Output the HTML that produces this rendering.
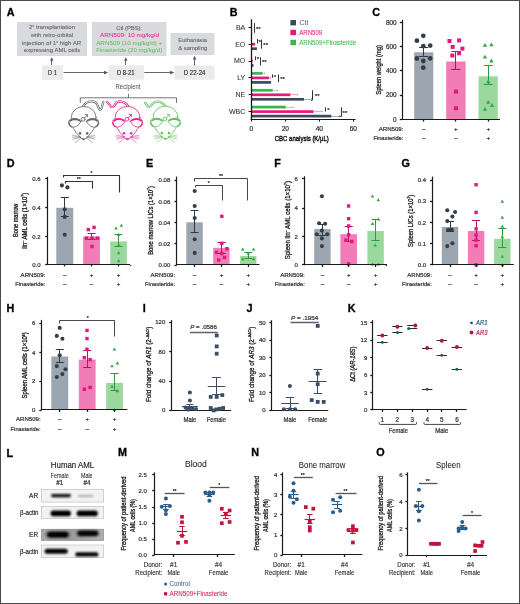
<!DOCTYPE html><html><head><meta charset="utf-8"><style>html,body{margin:0;padding:0;background:#fff;}svg{display:block;will-change:transform;font-family:"Liberation Sans",sans-serif;}</style></head><body>
<svg width="520" height="604" viewBox="0 0 520 604">
<rect x="0.00" y="0.00" width="520.00" height="604.00" fill="#fff" stroke="none" stroke-width="0"/>
<text x="6.84" y="15.73" font-size="10.8" font-weight="bold" fill="#000" stroke="#000" stroke-width="0.3">A</text>
<rect x="17.00" y="22.00" width="70.00" height="34.00" fill="#d8dadd" stroke="none" stroke-width="0"/>
<rect x="92.00" y="22.00" width="74.50" height="34.00" fill="#d8dadd" stroke="none" stroke-width="0"/>
<rect x="170.50" y="33.00" width="44.00" height="22.00" fill="#d8dadd" stroke="none" stroke-width="0"/>
<text x="52.00" y="29.34" font-size="6.1" fill="#5e5e5e" text-anchor="middle" stroke="#5e5e5e" stroke-width="0.08" textLength="46" lengthAdjust="spacingAndGlyphs">2<tspan font-size="3.5" dy="-2">o</tspan><tspan dy="2"> transplantation</tspan></text>
<text x="52.00" y="37.03" font-size="6.1" fill="#5e5e5e" text-anchor="middle" stroke="#5e5e5e" stroke-width="0.08" textLength="42.4" lengthAdjust="spacingAndGlyphs">with retro-orbital</text>
<text x="51.60" y="44.63" font-size="6.1" fill="#5e5e5e" text-anchor="middle" stroke="#5e5e5e" stroke-width="0.08" textLength="59.3" lengthAdjust="spacingAndGlyphs">injection of 1<tspan font-size="3.5" dy="-2">o</tspan><tspan dy="2"> high AR</tspan></text>
<text x="52.10" y="52.03" font-size="6.1" fill="#5e5e5e" text-anchor="middle" stroke="#5e5e5e" stroke-width="0.08" textLength="56.2" lengthAdjust="spacingAndGlyphs">expressing AML cells</text>
<text x="129.20" y="29.73" font-size="6.1" fill="#5e5e5e" text-anchor="middle" stroke="#5e5e5e" stroke-width="0.08" textLength="26" lengthAdjust="spacingAndGlyphs">Ctl (PBS):</text>
<text x="129.60" y="37.03" font-size="6.1" fill="#e1268c" text-anchor="middle" stroke="#e1268c" stroke-width="0.03" textLength="59" lengthAdjust="spacingAndGlyphs">ARN509: 10 mg/kg/d</text>
<text x="129.20" y="44.73" font-size="6.1" fill="#62c062" text-anchor="middle" stroke="#62c062" stroke-width="0.03" textLength="66" lengthAdjust="spacingAndGlyphs">ARN509 (10 mg/kg/d) +</text>
<text x="129.20" y="52.34" font-size="6.1" fill="#62c062" text-anchor="middle" stroke="#62c062" stroke-width="0.03" textLength="66" lengthAdjust="spacingAndGlyphs">Finasteride (20 mg/kg/d)</text>
<text x="192.60" y="42.03" font-size="6.1" fill="#5e5e5e" text-anchor="middle" stroke="#5e5e5e" stroke-width="0.08" textLength="28.5" lengthAdjust="spacingAndGlyphs">Euthanasia</text>
<text x="192.70" y="49.63" font-size="6.1" fill="#5e5e5e" text-anchor="middle" stroke="#5e5e5e" stroke-width="0.08" textLength="29" lengthAdjust="spacingAndGlyphs">&amp; sampling</text>
<rect x="42.00" y="65.30" width="21.00" height="14.50" fill="#ebebeb" stroke="none" stroke-width="0"/>
<rect x="108.50" y="65.30" width="35.50" height="14.50" fill="#ebebeb" stroke="none" stroke-width="0"/>
<rect x="174.60" y="65.60" width="39.80" height="14.20" fill="#ebebeb" stroke="none" stroke-width="0"/>
<text x="52.40" y="75.25" font-size="7" fill="#222" text-anchor="middle" stroke="#222" stroke-width="0.12" textLength="8.8" lengthAdjust="spacingAndGlyphs">D 1</text>
<text x="125.80" y="75.25" font-size="7" fill="#222" text-anchor="middle" stroke="#222" stroke-width="0.12" textLength="17.7" lengthAdjust="spacingAndGlyphs">D 8-21</text>
<text x="194.60" y="75.25" font-size="7" fill="#222" text-anchor="middle" stroke="#222" stroke-width="0.12" textLength="21.6" lengthAdjust="spacingAndGlyphs">D 22-24</text>
<line x1="63.50" y1="72.50" x2="105.00" y2="72.50" stroke="#555" stroke-width="0.9"/>
<polygon points="108,72.6 104,70.8 104,74.39999999999999" fill="#555"/>
<line x1="144.30" y1="72.50" x2="171.20" y2="72.50" stroke="#555" stroke-width="0.9"/>
<polygon points="174.2,72.6 170.2,70.8 170.2,74.39999999999999" fill="#555"/>
<line x1="51.50" y1="65.00" x2="51.50" y2="60.20" stroke="#555" stroke-width="0.9"/>
<polygon points="51.8,57.2 50.099999999999994,60.800000000000004 53.5,60.800000000000004" fill="#555"/>
<line x1="125.50" y1="65.00" x2="125.50" y2="60.20" stroke="#555" stroke-width="0.9"/>
<polygon points="125.8,57.2 124.1,60.800000000000004 127.5,60.800000000000004" fill="#555"/>
<line x1="194.50" y1="65.30" x2="194.50" y2="58.80" stroke="#555" stroke-width="0.9"/>
<polygon points="194.6,55.8 192.9,59.4 196.29999999999998,59.4" fill="#555"/>
<text x="128.00" y="89.04" font-size="6.4" fill="#555" text-anchor="middle" stroke="#555" stroke-width="0.03" textLength="25" lengthAdjust="spacingAndGlyphs">Recipient</text>
<polyline points="80.30,103.00 80.30,97.80 176.50,97.80 176.50,103.00" stroke="#666" stroke-width="0.9" fill="none"/>
<line x1="128.50" y1="97.80" x2="128.50" y2="93.80" stroke="#666" stroke-width="0.9"/>
<g transform="translate(83.7,106.6)" stroke="#66696d" fill="#fff" stroke-width="0.85" stroke-linecap="round" stroke-linejoin="round">
<path d="M -1 0.5 C 1 -4, 5 -5.5, 9 -5.3 C 12 -5, 13 -4, 14 -1 C 15 2, 15.5 3, 16.5 3 C 17.5 3, 18 2, 18.5 -1 L 19.6 -4.6" fill="none" stroke="#66696d" stroke-width="2.3"/>
<path d="M -1 0.5 C 1 -4, 5 -5.5, 9 -5.3 C 12 -5, 13 -4, 14 -1 C 15 2, 15.5 3, 16.5 3 C 17.5 3, 18 2, 18.5 -1 L 19.6 -4.6" fill="none" stroke="#fff" stroke-width="0.9"/>
<ellipse cx="0" cy="10.8" rx="12.4" ry="10.9"/>
<path d="M -12 17.5 C -10.5 24, -5 29, -1.6 32.5 Q 0 33.6 1.6 32.5 C 5 29, 10.5 24, 12 17.5 Z" stroke="none"/>
<path d="M -12 17.5 C -10.5 24, -5 29, -1.6 32.5 Q 0 33.6 1.6 32.5 C 5 29, 10.5 24, 12 17.5" fill="none"/>
<g transform="scale(-1,1)">
<path d="M -2.8 14.8 C -4.8 11.6, -11 11, -14 13.2 C -15.8 15, -15.3 19, -12.6 20.2 C -9 21.4, -4.8 19.4, -2.8 14.8 Z"/>
<path d="M -3.9 14 C -6.4 12.2, -11.2 12.1, -13.6 14.3" fill="none" stroke-width="1.9"/>
<path d="M -14.6 16 C -14.5 18.2, -13.4 19.5, -12 20" fill="none" stroke-width="1.2"/>
</g>
<g transform="scale(1,1)">
<path d="M -2.8 14.8 C -4.8 11.6, -11 11, -14 13.2 C -15.8 15, -15.3 19, -12.6 20.2 C -9 21.4, -4.8 19.4, -2.8 14.8 Z"/>
<path d="M -3.9 14 C -6.4 12.2, -11.2 12.1, -13.6 14.3" fill="none" stroke-width="1.9"/>
<path d="M -14.6 16 C -14.5 18.2, -13.4 19.5, -12 20" fill="none" stroke-width="1.2"/>
</g>
<circle cx="-3.6" cy="26.8" r="1.3" fill="#66696d" stroke="none"/>
<circle cx="3.5" cy="26.8" r="1.3" fill="#66696d" stroke="none"/>
<path d="M -1.1 31.9 L 1.1 31.9 L 0 33.2 Z" fill="#66696d" stroke-width="0.6"/>
<path d="M -3 30.2 L -11 28.8 M -3 30.8 L -11 32.6 M -2.6 31.4 L -8.6 36 M -3.4 30.5 L -11.5 30.6 M 3 30.2 L 11 28.8 M 3 30.8 L 11 32.6 M 2.6 31.4 L 8.6 36 M 3.4 30.5 L 11.5 30.6" fill="none" stroke-width="0.5"/>
<circle cx="-0.6" cy="12.7" r="1.9" fill="none" stroke-width="0.85"/>
<path d="M 0.8 11.3 L 3.6 8.2 M 1.5 8.0 L 3.8 8.0 L 3.8 10.3" fill="none" stroke-width="0.85"/>
</g>
<g transform="translate(127.6,106.5)" stroke="#e8288f" fill="#fff" stroke-width="0.85" stroke-linecap="round" stroke-linejoin="round">
<path d="M 1.2 0.5 C -1 -3, -4 -5, -8 -5 C -11 -5, -12 -3, -13.5 -0.5 C -15 1, -16.5 1.2, -17.5 -1 L -20.5 -4.5" fill="none" stroke="#e8288f" stroke-width="2.3"/>
<path d="M 1.2 0.5 C -1 -3, -4 -5, -8 -5 C -11 -5, -12 -3, -13.5 -0.5 C -15 1, -16.5 1.2, -17.5 -1 L -20.5 -4.5" fill="none" stroke="#fff" stroke-width="0.9"/>
<ellipse cx="0" cy="10.8" rx="12.4" ry="10.9"/>
<path d="M -12 17.5 C -10.5 24, -5 29, -1.6 32.5 Q 0 33.6 1.6 32.5 C 5 29, 10.5 24, 12 17.5 Z" stroke="none"/>
<path d="M -12 17.5 C -10.5 24, -5 29, -1.6 32.5 Q 0 33.6 1.6 32.5 C 5 29, 10.5 24, 12 17.5" fill="none"/>
<g transform="scale(-1,1)">
<path d="M -2.8 14.8 C -4.8 11.6, -11 11, -14 13.2 C -15.8 15, -15.3 19, -12.6 20.2 C -9 21.4, -4.8 19.4, -2.8 14.8 Z"/>
<path d="M -3.9 14 C -6.4 12.2, -11.2 12.1, -13.6 14.3" fill="none" stroke-width="1.9"/>
<path d="M -14.6 16 C -14.5 18.2, -13.4 19.5, -12 20" fill="none" stroke-width="1.2"/>
</g>
<g transform="scale(1,1)">
<path d="M -2.8 14.8 C -4.8 11.6, -11 11, -14 13.2 C -15.8 15, -15.3 19, -12.6 20.2 C -9 21.4, -4.8 19.4, -2.8 14.8 Z"/>
<path d="M -3.9 14 C -6.4 12.2, -11.2 12.1, -13.6 14.3" fill="none" stroke-width="1.9"/>
<path d="M -14.6 16 C -14.5 18.2, -13.4 19.5, -12 20" fill="none" stroke-width="1.2"/>
</g>
<circle cx="-3.6" cy="26.8" r="1.3" fill="#e8288f" stroke="none"/>
<circle cx="3.5" cy="26.8" r="1.3" fill="#e8288f" stroke="none"/>
<path d="M -1.1 31.9 L 1.1 31.9 L 0 33.2 Z" fill="#e8288f" stroke-width="0.6"/>
<path d="M -3 30.2 L -11 28.8 M -3 30.8 L -11 32.6 M -2.6 31.4 L -8.6 36 M -3.4 30.5 L -11.5 30.6 M 3 30.2 L 11 28.8 M 3 30.8 L 11 32.6 M 2.6 31.4 L 8.6 36 M 3.4 30.5 L 11.5 30.6" fill="none" stroke-width="0.5"/>
<circle cx="-0.6" cy="12.7" r="1.9" fill="none" stroke-width="0.85"/>
<path d="M 0.8 11.3 L 3.6 8.2 M 1.5 8.0 L 3.8 8.0 L 3.8 10.3" fill="none" stroke-width="0.85"/>
</g>
<g transform="translate(165.5,106.3)" stroke="#63c25f" fill="#fff" stroke-width="0.85" stroke-linecap="round" stroke-linejoin="round">
<path d="M 0.5 0.3 C -2 -3, -5 -5, -9 -4.7 C -12 -4.4, -13 -2.8, -14.5 -0.5 C -16 1, -17.5 1.2, -18.5 -1 L -20.5 -3.5" fill="none" stroke="#63c25f" stroke-width="2.3"/>
<path d="M 0.5 0.3 C -2 -3, -5 -5, -9 -4.7 C -12 -4.4, -13 -2.8, -14.5 -0.5 C -16 1, -17.5 1.2, -18.5 -1 L -20.5 -3.5" fill="none" stroke="#fff" stroke-width="0.9"/>
<ellipse cx="0" cy="10.8" rx="12.4" ry="10.9"/>
<path d="M -12 17.5 C -10.5 24, -5 29, -1.6 32.5 Q 0 33.6 1.6 32.5 C 5 29, 10.5 24, 12 17.5 Z" stroke="none"/>
<path d="M -12 17.5 C -10.5 24, -5 29, -1.6 32.5 Q 0 33.6 1.6 32.5 C 5 29, 10.5 24, 12 17.5" fill="none"/>
<g transform="scale(-1,1)">
<path d="M -2.8 14.8 C -4.8 11.6, -11 11, -14 13.2 C -15.8 15, -15.3 19, -12.6 20.2 C -9 21.4, -4.8 19.4, -2.8 14.8 Z"/>
<path d="M -3.9 14 C -6.4 12.2, -11.2 12.1, -13.6 14.3" fill="none" stroke-width="1.9"/>
<path d="M -14.6 16 C -14.5 18.2, -13.4 19.5, -12 20" fill="none" stroke-width="1.2"/>
</g>
<g transform="scale(1,1)">
<path d="M -2.8 14.8 C -4.8 11.6, -11 11, -14 13.2 C -15.8 15, -15.3 19, -12.6 20.2 C -9 21.4, -4.8 19.4, -2.8 14.8 Z"/>
<path d="M -3.9 14 C -6.4 12.2, -11.2 12.1, -13.6 14.3" fill="none" stroke-width="1.9"/>
<path d="M -14.6 16 C -14.5 18.2, -13.4 19.5, -12 20" fill="none" stroke-width="1.2"/>
</g>
<circle cx="-3.6" cy="26.8" r="1.3" fill="#63c25f" stroke="none"/>
<circle cx="3.5" cy="26.8" r="1.3" fill="#63c25f" stroke="none"/>
<path d="M -1.1 31.9 L 1.1 31.9 L 0 33.2 Z" fill="#63c25f" stroke-width="0.6"/>
<path d="M -3 30.2 L -11 28.8 M -3 30.8 L -11 32.6 M -2.6 31.4 L -8.6 36 M -3.4 30.5 L -11.5 30.6 M 3 30.2 L 11 28.8 M 3 30.8 L 11 32.6 M 2.6 31.4 L 8.6 36 M 3.4 30.5 L 11.5 30.6" fill="none" stroke-width="0.5"/>
<circle cx="-0.6" cy="12.7" r="1.9" fill="none" stroke-width="0.85"/>
<path d="M 0.8 11.3 L 3.6 8.2 M 1.5 8.0 L 3.8 8.0 L 3.8 10.3" fill="none" stroke-width="0.85"/>
</g>
<text x="229.69" y="15.73" font-size="10.8" font-weight="bold" fill="#000" stroke="#000" stroke-width="0.3">B</text>
<rect x="251.30" y="21.65" width="0.17" height="2.70" fill="#3cb54b" stroke="none" stroke-width="0"/>
<rect x="251.30" y="26.15" width="0.17" height="2.70" fill="#e5197f" stroke="none" stroke-width="0"/>
<rect x="251.30" y="30.65" width="0.34" height="2.70" fill="#3c4a5c" stroke="none" stroke-width="0"/>
<line x1="248.50" y1="27.50" x2="251.30" y2="27.50" stroke="#1a1a1a" stroke-width="1"/>
<text x="245.30" y="29.95" font-size="7" fill="#3a3a3a" text-anchor="end" stroke="#3a3a3a" stroke-width="0.1">BA</text>
<rect x="251.30" y="38.35" width="0.68" height="2.70" fill="#3cb54b" stroke="none" stroke-width="0"/>
<rect x="251.30" y="42.85" width="3.91" height="2.70" fill="#e5197f" stroke="none" stroke-width="0"/>
<rect x="251.30" y="47.35" width="5.61" height="2.70" fill="#3c4a5c" stroke="none" stroke-width="0"/>
<line x1="248.50" y1="44.50" x2="251.30" y2="44.50" stroke="#1a1a1a" stroke-width="1"/>
<text x="245.30" y="46.65" font-size="7" fill="#3a3a3a" text-anchor="end" stroke="#3a3a3a" stroke-width="0.1">EO</text>
<rect x="251.30" y="55.15" width="0.51" height="2.70" fill="#3cb54b" stroke="none" stroke-width="0"/>
<rect x="251.30" y="59.65" width="1.53" height="2.70" fill="#e5197f" stroke="none" stroke-width="0"/>
<rect x="251.30" y="64.15" width="2.21" height="2.70" fill="#3c4a5c" stroke="none" stroke-width="0"/>
<line x1="248.50" y1="61.50" x2="251.30" y2="61.50" stroke="#1a1a1a" stroke-width="1"/>
<text x="245.30" y="63.45" font-size="7" fill="#3a3a3a" text-anchor="end" stroke="#3a3a3a" stroke-width="0.1">MO</text>
<rect x="251.30" y="72.05" width="11.39" height="2.70" fill="#3cb54b" stroke="none" stroke-width="0"/>
<line x1="262.69" y1="73.50" x2="264.90" y2="73.50" stroke="#7fd08a" stroke-width="0.7"/>
<line x1="264.50" y1="72.40" x2="264.50" y2="74.40" stroke="#7fd08a" stroke-width="0.7"/>
<rect x="251.30" y="76.55" width="17.68" height="2.70" fill="#e5197f" stroke="none" stroke-width="0"/>
<line x1="268.98" y1="77.50" x2="270.85" y2="77.50" stroke="#f07ab2" stroke-width="0.7"/>
<line x1="270.50" y1="76.90" x2="270.50" y2="78.90" stroke="#f07ab2" stroke-width="0.7"/>
<rect x="251.30" y="81.05" width="19.72" height="2.70" fill="#3c4a5c" stroke="none" stroke-width="0"/>
<line x1="248.50" y1="77.50" x2="251.30" y2="77.50" stroke="#1a1a1a" stroke-width="1"/>
<text x="245.30" y="80.35" font-size="7" fill="#3a3a3a" text-anchor="end" stroke="#3a3a3a" stroke-width="0.1">LY</text>
<rect x="251.30" y="88.95" width="21.42" height="2.70" fill="#3cb54b" stroke="none" stroke-width="0"/>
<line x1="272.72" y1="90.50" x2="277.48" y2="90.50" stroke="#7fd08a" stroke-width="0.7"/>
<line x1="277.50" y1="89.30" x2="277.50" y2="91.30" stroke="#7fd08a" stroke-width="0.7"/>
<rect x="251.30" y="93.45" width="39.10" height="2.70" fill="#e5197f" stroke="none" stroke-width="0"/>
<line x1="290.40" y1="94.50" x2="297.20" y2="94.50" stroke="#f07ab2" stroke-width="0.7"/>
<line x1="297.50" y1="93.80" x2="297.50" y2="95.80" stroke="#f07ab2" stroke-width="0.7"/>
<rect x="251.30" y="97.95" width="52.70" height="2.70" fill="#3c4a5c" stroke="none" stroke-width="0"/>
<line x1="304.00" y1="99.50" x2="311.65" y2="99.50" stroke="#7a8594" stroke-width="0.7"/>
<line x1="311.50" y1="98.30" x2="311.50" y2="100.30" stroke="#7a8594" stroke-width="0.7"/>
<line x1="248.50" y1="94.50" x2="251.30" y2="94.50" stroke="#1a1a1a" stroke-width="1"/>
<text x="245.30" y="97.25" font-size="7" fill="#3a3a3a" text-anchor="end" stroke="#3a3a3a" stroke-width="0.1">NE</text>
<rect x="251.30" y="105.75" width="34.51" height="2.70" fill="#3cb54b" stroke="none" stroke-width="0"/>
<line x1="285.81" y1="107.50" x2="293.80" y2="107.50" stroke="#7fd08a" stroke-width="0.7"/>
<line x1="293.50" y1="106.10" x2="293.50" y2="108.10" stroke="#7fd08a" stroke-width="0.7"/>
<rect x="251.30" y="110.25" width="62.22" height="2.70" fill="#e5197f" stroke="none" stroke-width="0"/>
<line x1="313.52" y1="111.50" x2="322.70" y2="111.50" stroke="#f07ab2" stroke-width="0.7"/>
<line x1="322.50" y1="110.60" x2="322.50" y2="112.60" stroke="#f07ab2" stroke-width="0.7"/>
<rect x="251.30" y="114.75" width="80.07" height="2.70" fill="#3c4a5c" stroke="none" stroke-width="0"/>
<line x1="331.37" y1="116.50" x2="339.36" y2="116.50" stroke="#7a8594" stroke-width="0.7"/>
<line x1="339.50" y1="115.10" x2="339.50" y2="117.10" stroke="#7a8594" stroke-width="0.7"/>
<line x1="248.50" y1="111.50" x2="251.30" y2="111.50" stroke="#1a1a1a" stroke-width="1"/>
<text x="245.30" y="114.05" font-size="7" fill="#3a3a3a" text-anchor="end" stroke="#3a3a3a" stroke-width="0.1">WBC</text>
<line x1="251.50" y1="19.30" x2="251.50" y2="119.90" stroke="#1a1a1a" stroke-width="1.3"/>
<line x1="250.70" y1="119.50" x2="355.60" y2="119.50" stroke="#1a1a1a" stroke-width="1.2"/>
<line x1="251.50" y1="119.30" x2="251.50" y2="121.60" stroke="#1a1a1a" stroke-width="1"/>
<text x="251.30" y="131.08" font-size="6.5" fill="#333" text-anchor="middle" stroke="#333" stroke-width="0.22">0</text>
<line x1="285.50" y1="119.30" x2="285.50" y2="121.60" stroke="#1a1a1a" stroke-width="1"/>
<text x="285.30" y="131.08" font-size="6.5" fill="#333" text-anchor="middle" stroke="#333" stroke-width="0.22">20</text>
<line x1="319.50" y1="119.30" x2="319.50" y2="121.60" stroke="#1a1a1a" stroke-width="1"/>
<text x="319.30" y="131.08" font-size="6.5" fill="#333" text-anchor="middle" stroke="#333" stroke-width="0.22">40</text>
<line x1="353.50" y1="119.30" x2="353.50" y2="121.60" stroke="#1a1a1a" stroke-width="1"/>
<text x="353.30" y="131.08" font-size="6.5" fill="#333" text-anchor="middle" stroke="#333" stroke-width="0.22">60</text>
<text x="301.80" y="141.10" font-size="8" fill="#111" text-anchor="middle" stroke="#111" stroke-width="0.4" textLength="54" lengthAdjust="spacingAndGlyphs">CBC analysis (K/µL)</text>
<line x1="254.50" y1="23.20" x2="254.50" y2="32.80" stroke="#333" stroke-width="1.0"/>
<text x="256.00" y="30.60" font-size="6.0" fill="#333" text-anchor="start" stroke="#333" stroke-width="0.22">**</text>
<line x1="257.50" y1="39.00" x2="257.50" y2="43.40" stroke="#333" stroke-width="1.0"/>
<text x="258.60" y="43.60" font-size="6.0" fill="#333" text-anchor="start" stroke="#333" stroke-width="0.22">*</text>
<line x1="261.50" y1="39.50" x2="261.50" y2="48.70" stroke="#333" stroke-width="1.0"/>
<text x="263.30" y="47.20" font-size="6.0" fill="#333" text-anchor="start" stroke="#333" stroke-width="0.22">**</text>
<line x1="255.50" y1="56.30" x2="255.50" y2="60.20" stroke="#333" stroke-width="1.0"/>
<text x="256.80" y="60.80" font-size="6.0" fill="#333" text-anchor="start" stroke="#333" stroke-width="0.22">*</text>
<line x1="260.50" y1="57.30" x2="260.50" y2="65.50" stroke="#333" stroke-width="1.0"/>
<text x="262.00" y="64.20" font-size="6.0" fill="#333" text-anchor="start" stroke="#333" stroke-width="0.22">**</text>
<line x1="272.50" y1="74.40" x2="272.50" y2="77.80" stroke="#333" stroke-width="1.0"/>
<text x="273.80" y="78.60" font-size="6.0" fill="#333" text-anchor="start" stroke="#333" stroke-width="0.22">*</text>
<line x1="278.50" y1="74.40" x2="278.50" y2="82.10" stroke="#333" stroke-width="1.0"/>
<text x="280.20" y="81.20" font-size="6.0" fill="#333" text-anchor="start" stroke="#333" stroke-width="0.22">**</text>
<line x1="312.50" y1="90.20" x2="312.50" y2="100.00" stroke="#333" stroke-width="1.0"/>
<text x="314.80" y="97.80" font-size="6.0" fill="#333" text-anchor="start" stroke="#333" stroke-width="0.22">**</text>
<line x1="311.00" y1="100.50" x2="312.50" y2="100.50" stroke="#333" stroke-width="0.8"/>
<line x1="325.50" y1="107.30" x2="325.50" y2="111.50" stroke="#333" stroke-width="1.0"/>
<text x="327.20" y="112.00" font-size="6.0" fill="#333" text-anchor="start" stroke="#333" stroke-width="0.22">*</text>
<line x1="341.50" y1="107.30" x2="341.50" y2="116.70" stroke="#333" stroke-width="1.0"/>
<text x="342.60" y="115.20" font-size="6.0" fill="#333" text-anchor="start" stroke="#333" stroke-width="0.22">**</text>
<line x1="339.40" y1="116.50" x2="341.10" y2="116.50" stroke="#333" stroke-width="0.8"/>
<rect x="290.40" y="20.00" width="5.60" height="5.40" fill="#3c4a5c" stroke="none" stroke-width="0"/>
<text x="299.20" y="25.15" font-size="7" fill="#666" text-anchor="start" stroke="#666" stroke-width="0.04" textLength="9" lengthAdjust="spacingAndGlyphs">Ctl</text>
<rect x="290.40" y="29.80" width="5.60" height="5.40" fill="#e5197f" stroke="none" stroke-width="0"/>
<text x="299.20" y="34.95" font-size="7" fill="#e5197f" text-anchor="start" stroke="#e5197f" stroke-width="0.04" textLength="23" lengthAdjust="spacingAndGlyphs">ARN509</text>
<rect x="290.40" y="39.80" width="5.60" height="5.40" fill="#3cb54b" stroke="none" stroke-width="0"/>
<text x="299.20" y="44.95" font-size="7" fill="#3cb54b" text-anchor="start" stroke="#3cb54b" stroke-width="0.04" textLength="57" lengthAdjust="spacingAndGlyphs">ARN509+Finasteride</text>
<text x="372.16" y="15.73" font-size="10.8" font-weight="bold" fill="#000" stroke="#000" stroke-width="0.3">C</text>
<rect x="414.20" y="52.30" width="19.10" height="67.10" fill="#9ca6b1" stroke="none" stroke-width="0"/>
<rect x="446.20" y="61.50" width="19.40" height="57.90" fill="#f17cb6" stroke="none" stroke-width="0"/>
<rect x="478.50" y="76.30" width="19.30" height="43.10" fill="#9bd89e" stroke="none" stroke-width="0"/>
<line x1="423.50" y1="47.50" x2="423.50" y2="56.60" stroke="#2f3a47" stroke-width="1.0"/>
<line x1="419.20" y1="47.50" x2="428.20" y2="47.50" stroke="#2f3a47" stroke-width="1.0"/>
<line x1="419.20" y1="56.50" x2="428.20" y2="56.50" stroke="#2f3a47" stroke-width="1.0"/>
<line x1="455.50" y1="51.80" x2="455.50" y2="69.50" stroke="#b8106a" stroke-width="1.0"/>
<line x1="451.40" y1="51.50" x2="460.40" y2="51.50" stroke="#b8106a" stroke-width="1.0"/>
<line x1="451.40" y1="69.50" x2="460.40" y2="69.50" stroke="#b8106a" stroke-width="1.0"/>
<line x1="488.50" y1="65.60" x2="488.50" y2="84.50" stroke="#2e9a3c" stroke-width="1.0"/>
<line x1="483.70" y1="65.50" x2="492.70" y2="65.50" stroke="#2e9a3c" stroke-width="1.0"/>
<line x1="483.70" y1="84.50" x2="492.70" y2="84.50" stroke="#2e9a3c" stroke-width="1.0"/>
<circle cx="423.30" cy="35.80" r="2.3760000000000003" fill="#343e4a"/>
<circle cx="416.90" cy="40.70" r="2.3760000000000003" fill="#343e4a"/>
<circle cx="423.30" cy="46.20" r="2.3760000000000003" fill="#343e4a"/>
<circle cx="430.20" cy="45.60" r="2.3760000000000003" fill="#343e4a"/>
<circle cx="416.90" cy="58.50" r="2.3760000000000003" fill="#343e4a"/>
<circle cx="423.30" cy="61.00" r="2.3760000000000003" fill="#343e4a"/>
<circle cx="430.20" cy="58.30" r="2.3760000000000003" fill="#343e4a"/>
<circle cx="423.30" cy="67.70" r="2.3760000000000003" fill="#343e4a"/>
<rect x="447.50" y="39.00" width="4.00" height="4.00" fill="#e0187f" stroke="none" stroke-width="0"/>
<rect x="457.10" y="38.40" width="4.00" height="4.00" fill="#e0187f" stroke="none" stroke-width="0"/>
<rect x="450.70" y="44.90" width="4.00" height="4.00" fill="#e0187f" stroke="none" stroke-width="0"/>
<rect x="460.40" y="46.60" width="4.00" height="4.00" fill="#e0187f" stroke="none" stroke-width="0"/>
<rect x="457.10" y="51.30" width="4.00" height="4.00" fill="#e0187f" stroke="none" stroke-width="0"/>
<rect x="450.30" y="53.50" width="4.00" height="4.00" fill="#e0187f" stroke="none" stroke-width="0"/>
<rect x="453.90" y="89.60" width="4.00" height="4.00" fill="#e0187f" stroke="none" stroke-width="0"/>
<rect x="453.90" y="106.20" width="4.00" height="4.00" fill="#e0187f" stroke="none" stroke-width="0"/>
<polygon points="485.00,42.90 482.80,46.73 487.20,46.73" fill="#36a846"/>
<polygon points="491.40,42.40 489.20,46.23 493.60,46.23" fill="#36a846"/>
<polygon points="485.00,54.70 482.80,58.53 487.20,58.53" fill="#36a846"/>
<polygon points="491.40,58.60 489.20,62.43 493.60,62.43" fill="#36a846"/>
<polygon points="488.20,79.40 486.00,83.23 490.40,83.23" fill="#36a846"/>
<polygon points="488.20,99.90 486.00,103.73 490.40,103.73" fill="#36a846"/>
<polygon points="492.00,103.10 489.80,106.93 494.20,106.93" fill="#36a846"/>
<polygon points="485.00,106.90 482.80,110.73 487.20,110.73" fill="#36a846"/>
<line x1="402.50" y1="19.70" x2="402.50" y2="119.90" stroke="#1a1a1a" stroke-width="1.2"/>
<line x1="399.80" y1="22.50" x2="402.00" y2="22.50" stroke="#1a1a1a" stroke-width="1.3"/>
<text x="396.60" y="24.54" font-size="6.4" fill="#333" text-anchor="end" stroke="#333" stroke-width="0.22">800</text>
<line x1="399.80" y1="46.50" x2="402.00" y2="46.50" stroke="#1a1a1a" stroke-width="1.3"/>
<text x="396.60" y="48.74" font-size="6.4" fill="#333" text-anchor="end" stroke="#333" stroke-width="0.22">600</text>
<line x1="399.80" y1="70.50" x2="402.00" y2="70.50" stroke="#1a1a1a" stroke-width="1.3"/>
<text x="396.60" y="73.04" font-size="6.4" fill="#333" text-anchor="end" stroke="#333" stroke-width="0.22">400</text>
<line x1="399.80" y1="95.50" x2="402.00" y2="95.50" stroke="#1a1a1a" stroke-width="1.3"/>
<text x="396.60" y="97.34" font-size="6.4" fill="#333" text-anchor="end" stroke="#333" stroke-width="0.22">200</text>
<line x1="399.80" y1="119.50" x2="402.00" y2="119.50" stroke="#1a1a1a" stroke-width="1.3"/>
<text x="396.60" y="121.64" font-size="6.4" fill="#333" text-anchor="end" stroke="#333" stroke-width="0.22">0</text>
<line x1="401.40" y1="119.50" x2="500.00" y2="119.50" stroke="#1a1a1a" stroke-width="1.2"/>
<line x1="423.50" y1="119.40" x2="423.50" y2="121.60" stroke="#1a1a1a" stroke-width="1.3"/>
<line x1="455.50" y1="119.40" x2="455.50" y2="121.60" stroke="#1a1a1a" stroke-width="1.3"/>
<line x1="488.50" y1="119.40" x2="488.50" y2="121.60" stroke="#1a1a1a" stroke-width="1.3"/>
<text transform="translate(380.73,69.95) rotate(-90)" x="0" y="0" font-size="7.8" fill="#1a1a1a" text-anchor="middle" stroke="#1a1a1a" stroke-width="0.3" textLength="49.5" lengthAdjust="spacingAndGlyphs">Spleen weight (mg)</text>
<text x="403.40" y="130.97" font-size="6.2" fill="#333" text-anchor="end" stroke="#333" stroke-width="0.22" textLength="24.6" lengthAdjust="spacingAndGlyphs">ARN509:</text>
<text x="403.40" y="140.37" font-size="6.2" fill="#333" text-anchor="end" stroke="#333" stroke-width="0.22" textLength="30" lengthAdjust="spacingAndGlyphs">Finasteride:</text>
<text x="423.70" y="130.97" font-size="6.2" fill="#333" text-anchor="middle" stroke="#333" stroke-width="0.22">–</text>
<text x="455.90" y="130.97" font-size="6.2" fill="#333" text-anchor="middle" stroke="#333" stroke-width="0.22">+</text>
<text x="488.20" y="130.97" font-size="6.2" fill="#333" text-anchor="middle" stroke="#333" stroke-width="0.22">+</text>
<text x="423.70" y="140.37" font-size="6.2" fill="#333" text-anchor="middle" stroke="#333" stroke-width="0.22">–</text>
<text x="455.90" y="140.37" font-size="6.2" fill="#333" text-anchor="middle" stroke="#333" stroke-width="0.22">–</text>
<text x="488.20" y="140.37" font-size="6.2" fill="#333" text-anchor="middle" stroke="#333" stroke-width="0.22">+</text>
<text x="6.69" y="166.73" font-size="10.8" font-weight="bold" fill="#000" stroke="#000" stroke-width="0.3">D</text>
<rect x="56.30" y="207.80" width="16.90" height="56.40" fill="#9ca6b1" stroke="none" stroke-width="0"/>
<rect x="83.20" y="236.50" width="16.80" height="27.70" fill="#f17cb6" stroke="none" stroke-width="0"/>
<rect x="110.20" y="241.40" width="16.70" height="22.80" fill="#9bd89e" stroke="none" stroke-width="0"/>
<line x1="64.50" y1="197.40" x2="64.50" y2="216.90" stroke="#2f3a47" stroke-width="1.0"/>
<line x1="60.80" y1="197.50" x2="68.80" y2="197.50" stroke="#2f3a47" stroke-width="1.0"/>
<line x1="60.80" y1="216.50" x2="68.80" y2="216.50" stroke="#2f3a47" stroke-width="1.0"/>
<line x1="91.50" y1="233.30" x2="91.50" y2="239.60" stroke="#b8106a" stroke-width="1.0"/>
<line x1="87.60" y1="233.50" x2="95.60" y2="233.50" stroke="#b8106a" stroke-width="1.0"/>
<line x1="87.60" y1="239.50" x2="95.60" y2="239.50" stroke="#b8106a" stroke-width="1.0"/>
<line x1="118.50" y1="234.70" x2="118.50" y2="246.40" stroke="#2e9a3c" stroke-width="1.0"/>
<line x1="114.50" y1="234.50" x2="122.50" y2="234.50" stroke="#2e9a3c" stroke-width="1.0"/>
<line x1="114.50" y1="246.50" x2="122.50" y2="246.50" stroke="#2e9a3c" stroke-width="1.0"/>
<circle cx="61.90" cy="185.40" r="2.052" fill="#343e4a"/>
<circle cx="67.40" cy="187.40" r="2.052" fill="#343e4a"/>
<circle cx="64.70" cy="209.20" r="2.052" fill="#343e4a"/>
<circle cx="64.70" cy="216.90" r="2.052" fill="#343e4a"/>
<circle cx="64.70" cy="234.70" r="2.052" fill="#343e4a"/>
<rect x="86.60" y="227.90" width="3.40" height="3.40" fill="#e0187f" stroke="none" stroke-width="0"/>
<rect x="92.40" y="225.70" width="3.40" height="3.40" fill="#e0187f" stroke="none" stroke-width="0"/>
<rect x="84.80" y="236.50" width="3.40" height="3.40" fill="#e0187f" stroke="none" stroke-width="0"/>
<rect x="90.30" y="236.50" width="3.40" height="3.40" fill="#e0187f" stroke="none" stroke-width="0"/>
<rect x="95.70" y="236.50" width="3.40" height="3.40" fill="#e0187f" stroke="none" stroke-width="0"/>
<rect x="90.30" y="244.80" width="3.40" height="3.40" fill="#e0187f" stroke="none" stroke-width="0"/>
<polygon points="116.00,226.42 114.20,229.55 117.80,229.55" fill="#36a846"/>
<polygon points="121.40,223.72 119.60,226.85 123.20,226.85" fill="#36a846"/>
<polygon points="118.70,232.82 116.90,235.95 120.50,235.95" fill="#36a846"/>
<polygon points="118.70,243.22 116.90,246.35 120.50,246.35" fill="#36a846"/>
<polygon points="118.70,251.02 116.90,254.15 120.50,254.15" fill="#36a846"/>
<polygon points="118.70,259.02 116.90,262.15 120.50,262.15" fill="#36a846"/>
<line x1="47.50" y1="176.90" x2="47.50" y2="264.70" stroke="#1a1a1a" stroke-width="1.2"/>
<line x1="45.20" y1="178.50" x2="47.40" y2="178.50" stroke="#1a1a1a" stroke-width="1.3"/>
<text x="40.60" y="180.80" font-size="6" fill="#333" text-anchor="end" stroke="#333" stroke-width="0.22">0.6</text>
<line x1="45.20" y1="207.50" x2="47.40" y2="207.50" stroke="#1a1a1a" stroke-width="1.3"/>
<text x="40.60" y="210.00" font-size="6" fill="#333" text-anchor="end" stroke="#333" stroke-width="0.22">0.4</text>
<line x1="45.20" y1="236.50" x2="47.40" y2="236.50" stroke="#1a1a1a" stroke-width="1.3"/>
<text x="40.60" y="238.50" font-size="6" fill="#333" text-anchor="end" stroke="#333" stroke-width="0.22">0.2</text>
<line x1="45.20" y1="264.50" x2="47.40" y2="264.50" stroke="#1a1a1a" stroke-width="1.3"/>
<text x="40.60" y="266.70" font-size="6" fill="#333" text-anchor="end" stroke="#333" stroke-width="0.22">0.0</text>
<line x1="46.80" y1="264.50" x2="130.00" y2="264.50" stroke="#1a1a1a" stroke-width="1.2"/>
<line x1="64.50" y1="264.20" x2="64.50" y2="266.40" stroke="#1a1a1a" stroke-width="1.3"/>
<line x1="91.50" y1="264.20" x2="91.50" y2="266.40" stroke="#1a1a1a" stroke-width="1.3"/>
<line x1="118.50" y1="264.20" x2="118.50" y2="266.40" stroke="#1a1a1a" stroke-width="1.3"/>
<polyline points="63.50,177.50 63.50,175.50 119.50,175.50 119.50,192.50" stroke="#333" stroke-width="1.1" fill="none"/>
<polyline points="65.50,183.50 65.50,181.50 92.50,181.50 92.50,188.50" stroke="#333" stroke-width="1.1" fill="none"/>
<text x="91.40" y="174.50" font-size="5" fill="#333" text-anchor="middle" stroke="#333" stroke-width="0.22">*</text>
<text x="78.70" y="181.40" font-size="5" fill="#333" text-anchor="middle" stroke="#333" stroke-width="0.22">**</text>
<text transform="translate(17.51,220.30) rotate(-90)" x="0" y="0" font-size="6.6" fill="#1a1a1a" text-anchor="middle" stroke="#1a1a1a" stroke-width="0.3" textLength="33.4" lengthAdjust="spacingAndGlyphs">Bone marrow</text>
<text transform="translate(26.51,220.75) rotate(-90)" x="0" y="0" font-size="6.6" fill="#1a1a1a" text-anchor="middle" stroke="#1a1a1a" stroke-width="0.3" textLength="56.1" lengthAdjust="spacingAndGlyphs">lin<tspan font-size="4" dy="-2.5">–</tspan><tspan dy="2.5"> AML cells (1×10</tspan><tspan font-size="4" dy="-2.5">7</tspan><tspan dy="2.5">)</tspan></text>
<text x="45.20" y="276.77" font-size="6.2" fill="#333" text-anchor="end" stroke="#333" stroke-width="0.22" textLength="24.6" lengthAdjust="spacingAndGlyphs">ARN509:</text>
<text x="45.20" y="286.37" font-size="6.2" fill="#333" text-anchor="end" stroke="#333" stroke-width="0.22" textLength="30" lengthAdjust="spacingAndGlyphs">Finasteride:</text>
<text x="64.80" y="276.77" font-size="6.2" fill="#333" text-anchor="middle" stroke="#333" stroke-width="0.22">–</text>
<text x="91.60" y="276.77" font-size="6.2" fill="#333" text-anchor="middle" stroke="#333" stroke-width="0.22">+</text>
<text x="118.50" y="276.77" font-size="6.2" fill="#333" text-anchor="middle" stroke="#333" stroke-width="0.22">+</text>
<text x="64.80" y="286.37" font-size="6.2" fill="#333" text-anchor="middle" stroke="#333" stroke-width="0.22">–</text>
<text x="91.60" y="286.37" font-size="6.2" fill="#333" text-anchor="middle" stroke="#333" stroke-width="0.22">–</text>
<text x="118.50" y="286.37" font-size="6.2" fill="#333" text-anchor="middle" stroke="#333" stroke-width="0.22">+</text>
<text x="145.89" y="166.73" font-size="10.8" font-weight="bold" fill="#000" stroke="#000" stroke-width="0.3">E</text>
<rect x="186.30" y="222.30" width="16.50" height="42.40" fill="#9ca6b1" stroke="none" stroke-width="0"/>
<rect x="213.20" y="247.80" width="16.40" height="16.90" fill="#f17cb6" stroke="none" stroke-width="0"/>
<rect x="240.20" y="256.00" width="16.20" height="8.70" fill="#9bd89e" stroke="none" stroke-width="0"/>
<line x1="194.50" y1="210.50" x2="194.50" y2="232.30" stroke="#2f3a47" stroke-width="1.0"/>
<line x1="190.50" y1="210.50" x2="198.50" y2="210.50" stroke="#2f3a47" stroke-width="1.0"/>
<line x1="190.50" y1="232.50" x2="198.50" y2="232.50" stroke="#2f3a47" stroke-width="1.0"/>
<line x1="221.50" y1="242.00" x2="221.50" y2="253.00" stroke="#b8106a" stroke-width="1.0"/>
<line x1="217.60" y1="242.50" x2="225.60" y2="242.50" stroke="#b8106a" stroke-width="1.0"/>
<line x1="217.60" y1="253.50" x2="225.60" y2="253.50" stroke="#b8106a" stroke-width="1.0"/>
<line x1="248.50" y1="252.60" x2="248.50" y2="258.40" stroke="#2e9a3c" stroke-width="1.0"/>
<line x1="244.30" y1="252.50" x2="252.30" y2="252.50" stroke="#2e9a3c" stroke-width="1.0"/>
<line x1="244.30" y1="258.50" x2="252.30" y2="258.50" stroke="#2e9a3c" stroke-width="1.0"/>
<circle cx="194.70" cy="191.00" r="2.052" fill="#343e4a"/>
<circle cx="194.70" cy="206.00" r="2.052" fill="#343e4a"/>
<circle cx="194.70" cy="218.10" r="2.052" fill="#343e4a"/>
<circle cx="194.70" cy="239.30" r="2.052" fill="#343e4a"/>
<circle cx="194.70" cy="252.90" r="2.052" fill="#343e4a"/>
<rect x="220.10" y="214.60" width="3.40" height="3.40" fill="#e0187f" stroke="none" stroke-width="0"/>
<rect x="220.10" y="241.60" width="3.40" height="3.40" fill="#e0187f" stroke="none" stroke-width="0"/>
<rect x="225.20" y="247.00" width="3.40" height="3.40" fill="#e0187f" stroke="none" stroke-width="0"/>
<rect x="214.80" y="250.70" width="3.40" height="3.40" fill="#e0187f" stroke="none" stroke-width="0"/>
<rect x="220.10" y="251.90" width="3.40" height="3.40" fill="#e0187f" stroke="none" stroke-width="0"/>
<rect x="222.80" y="255.80" width="3.40" height="3.40" fill="#e0187f" stroke="none" stroke-width="0"/>
<rect x="217.00" y="258.30" width="3.40" height="3.40" fill="#e0187f" stroke="none" stroke-width="0"/>
<polygon points="242.70,247.42 240.90,250.55 244.50,250.55" fill="#36a846"/>
<polygon points="253.60,247.42 251.80,250.55 255.40,250.55" fill="#36a846"/>
<polygon points="248.20,251.42 246.40,254.55 250.00,254.55" fill="#36a846"/>
<polygon points="242.70,257.22 240.90,260.35 244.50,260.35" fill="#36a846"/>
<polygon points="253.60,257.22 251.80,260.35 255.40,260.35" fill="#36a846"/>
<line x1="176.50" y1="176.60" x2="176.50" y2="265.20" stroke="#1a1a1a" stroke-width="1.2"/>
<line x1="174.50" y1="180.50" x2="176.70" y2="180.50" stroke="#1a1a1a" stroke-width="1.3"/>
<text x="170.30" y="182.40" font-size="6" fill="#333" text-anchor="end" stroke="#333" stroke-width="0.22">0.08</text>
<line x1="174.50" y1="201.50" x2="176.70" y2="201.50" stroke="#1a1a1a" stroke-width="1.3"/>
<text x="170.30" y="203.50" font-size="6" fill="#333" text-anchor="end" stroke="#333" stroke-width="0.22">0.06</text>
<line x1="174.50" y1="222.50" x2="176.70" y2="222.50" stroke="#1a1a1a" stroke-width="1.3"/>
<text x="170.30" y="224.80" font-size="6" fill="#333" text-anchor="end" stroke="#333" stroke-width="0.22">0.04</text>
<line x1="174.50" y1="243.50" x2="176.70" y2="243.50" stroke="#1a1a1a" stroke-width="1.3"/>
<text x="170.30" y="245.90" font-size="6" fill="#333" text-anchor="end" stroke="#333" stroke-width="0.22">0.02</text>
<line x1="174.50" y1="265.50" x2="176.70" y2="265.50" stroke="#1a1a1a" stroke-width="1.3"/>
<text x="170.30" y="267.10" font-size="6" fill="#333" text-anchor="end" stroke="#333" stroke-width="0.22">0.00</text>
<line x1="176.10" y1="264.50" x2="259.50" y2="264.50" stroke="#1a1a1a" stroke-width="1.2"/>
<line x1="194.50" y1="264.70" x2="194.50" y2="266.90" stroke="#1a1a1a" stroke-width="1.3"/>
<line x1="221.50" y1="264.70" x2="221.50" y2="266.90" stroke="#1a1a1a" stroke-width="1.3"/>
<line x1="248.50" y1="264.70" x2="248.50" y2="266.90" stroke="#1a1a1a" stroke-width="1.3"/>
<polyline points="194.50,181.50 194.50,178.50 247.50,178.50 247.50,200.50" stroke="#333" stroke-width="0.9" fill="none"/>
<polyline points="195.50,187.50 195.50,185.50 222.50,185.50 222.50,200.50" stroke="#333" stroke-width="0.9" fill="none"/>
<text x="220.90" y="177.80" font-size="5" fill="#333" text-anchor="middle" stroke="#333" stroke-width="0.22">**</text>
<text x="208.70" y="184.70" font-size="5" fill="#333" text-anchor="middle" stroke="#333" stroke-width="0.22">*</text>
<text transform="translate(152.91,220.40) rotate(-90)" x="0" y="0" font-size="6.6" fill="#1a1a1a" text-anchor="middle" stroke="#1a1a1a" stroke-width="0.3" textLength="68.8" lengthAdjust="spacingAndGlyphs">Bone marrow LICs (1×10<tspan font-size="4" dy="-2.5">7</tspan><tspan dy="2.5">)</tspan></text>
<text x="175.10" y="276.77" font-size="6.2" fill="#333" text-anchor="end" stroke="#333" stroke-width="0.22" textLength="24.6" lengthAdjust="spacingAndGlyphs">ARN509:</text>
<text x="175.10" y="286.37" font-size="6.2" fill="#333" text-anchor="end" stroke="#333" stroke-width="0.22" textLength="30" lengthAdjust="spacingAndGlyphs">Finasteride:</text>
<text x="194.50" y="276.77" font-size="6.2" fill="#333" text-anchor="middle" stroke="#333" stroke-width="0.22">–</text>
<text x="221.60" y="276.77" font-size="6.2" fill="#333" text-anchor="middle" stroke="#333" stroke-width="0.22">+</text>
<text x="248.30" y="276.77" font-size="6.2" fill="#333" text-anchor="middle" stroke="#333" stroke-width="0.22">+</text>
<text x="194.50" y="286.37" font-size="6.2" fill="#333" text-anchor="middle" stroke="#333" stroke-width="0.22">–</text>
<text x="221.60" y="286.37" font-size="6.2" fill="#333" text-anchor="middle" stroke="#333" stroke-width="0.22">–</text>
<text x="248.30" y="286.37" font-size="6.2" fill="#333" text-anchor="middle" stroke="#333" stroke-width="0.22">+</text>
<circle cx="130.80" cy="265.50" r="0.7" fill="#333"/>
<text x="274.29" y="166.73" font-size="10.8" font-weight="bold" fill="#000" stroke="#000" stroke-width="0.3">F</text>
<rect x="314.20" y="229.10" width="16.40" height="35.70" fill="#9ca6b1" stroke="none" stroke-width="0"/>
<rect x="340.40" y="234.20" width="16.60" height="30.60" fill="#f17cb6" stroke="none" stroke-width="0"/>
<rect x="367.40" y="231.00" width="16.40" height="33.80" fill="#9bd89e" stroke="none" stroke-width="0"/>
<line x1="322.50" y1="224.20" x2="322.50" y2="235.10" stroke="#2f3a47" stroke-width="1.0"/>
<line x1="318.40" y1="224.50" x2="326.40" y2="224.50" stroke="#2f3a47" stroke-width="1.0"/>
<line x1="318.40" y1="235.50" x2="326.40" y2="235.50" stroke="#2f3a47" stroke-width="1.0"/>
<line x1="348.50" y1="226.00" x2="348.50" y2="241.50" stroke="#b8106a" stroke-width="1.0"/>
<line x1="344.70" y1="226.50" x2="352.70" y2="226.50" stroke="#b8106a" stroke-width="1.0"/>
<line x1="344.70" y1="241.50" x2="352.70" y2="241.50" stroke="#b8106a" stroke-width="1.0"/>
<line x1="375.50" y1="219.70" x2="375.50" y2="240.60" stroke="#2e9a3c" stroke-width="1.0"/>
<line x1="371.60" y1="219.50" x2="379.60" y2="219.50" stroke="#2e9a3c" stroke-width="1.0"/>
<line x1="371.60" y1="240.50" x2="379.60" y2="240.50" stroke="#2e9a3c" stroke-width="1.0"/>
<circle cx="321.90" cy="196.30" r="2.052" fill="#343e4a"/>
<circle cx="319.10" cy="223.30" r="2.052" fill="#343e4a"/>
<circle cx="325.10" cy="223.70" r="2.052" fill="#343e4a"/>
<circle cx="321.90" cy="230.60" r="2.052" fill="#343e4a"/>
<circle cx="316.80" cy="234.20" r="2.052" fill="#343e4a"/>
<circle cx="327.30" cy="234.20" r="2.052" fill="#343e4a"/>
<circle cx="321.90" cy="238.40" r="2.052" fill="#343e4a"/>
<circle cx="321.90" cy="246.10" r="2.052" fill="#343e4a"/>
<rect x="346.90" y="204.30" width="3.40" height="3.40" fill="#e0187f" stroke="none" stroke-width="0"/>
<rect x="346.90" y="217.00" width="3.40" height="3.40" fill="#e0187f" stroke="none" stroke-width="0"/>
<rect x="346.90" y="224.30" width="3.40" height="3.40" fill="#e0187f" stroke="none" stroke-width="0"/>
<rect x="346.90" y="233.10" width="3.40" height="3.40" fill="#e0187f" stroke="none" stroke-width="0"/>
<rect x="344.20" y="238.50" width="3.40" height="3.40" fill="#e0187f" stroke="none" stroke-width="0"/>
<rect x="350.20" y="239.80" width="3.40" height="3.40" fill="#e0187f" stroke="none" stroke-width="0"/>
<rect x="346.90" y="262.20" width="3.40" height="3.40" fill="#e0187f" stroke="none" stroke-width="0"/>
<polygon points="372.50,194.42 370.70,197.55 374.30,197.55" fill="#36a846"/>
<polygon points="378.30,198.12 376.50,201.25 380.10,201.25" fill="#36a846"/>
<polygon points="378.30,217.42 376.50,220.55 380.10,220.55" fill="#36a846"/>
<polygon points="372.50,221.82 370.70,224.95 374.30,224.95" fill="#36a846"/>
<polygon points="375.20,243.32 373.40,246.45 377.00,246.45" fill="#36a846"/>
<polygon points="372.50,262.42 370.70,265.55 374.30,265.55" fill="#36a846"/>
<polygon points="378.30,262.42 376.50,265.55 380.10,265.55" fill="#36a846"/>
<line x1="304.50" y1="176.20" x2="304.50" y2="265.30" stroke="#1a1a1a" stroke-width="1.2"/>
<line x1="302.00" y1="178.50" x2="304.20" y2="178.50" stroke="#1a1a1a" stroke-width="1.3"/>
<text x="297.80" y="181.00" font-size="6" fill="#333" text-anchor="end" stroke="#333" stroke-width="0.22">6</text>
<line x1="302.00" y1="208.50" x2="304.20" y2="208.50" stroke="#1a1a1a" stroke-width="1.3"/>
<text x="297.80" y="210.20" font-size="6" fill="#333" text-anchor="end" stroke="#333" stroke-width="0.22">4</text>
<line x1="302.00" y1="236.50" x2="304.20" y2="236.50" stroke="#1a1a1a" stroke-width="1.3"/>
<text x="297.80" y="238.50" font-size="6" fill="#333" text-anchor="end" stroke="#333" stroke-width="0.22">2</text>
<line x1="302.00" y1="264.50" x2="304.20" y2="264.50" stroke="#1a1a1a" stroke-width="1.3"/>
<text x="297.80" y="266.90" font-size="6" fill="#333" text-anchor="end" stroke="#333" stroke-width="0.22">0</text>
<line x1="303.60" y1="264.50" x2="387.00" y2="264.50" stroke="#1a1a1a" stroke-width="1.2"/>
<line x1="322.50" y1="264.80" x2="322.50" y2="267.00" stroke="#1a1a1a" stroke-width="1.3"/>
<line x1="348.50" y1="264.80" x2="348.50" y2="267.00" stroke="#1a1a1a" stroke-width="1.3"/>
<line x1="375.50" y1="264.80" x2="375.50" y2="267.00" stroke="#1a1a1a" stroke-width="1.3"/>
<text transform="translate(289.95,220.10) rotate(-90)" x="0" y="0" font-size="7.0" fill="#1a1a1a" text-anchor="middle" stroke="#1a1a1a" stroke-width="0.3" textLength="78.2" lengthAdjust="spacingAndGlyphs">Spleen lin<tspan font-size="4" dy="-2.5">–</tspan><tspan dy="2.5"> AML cells (1×10</tspan><tspan font-size="4" dy="-2.5">7</tspan><tspan dy="2.5">)</tspan></text>
<text x="304.80" y="276.77" font-size="6.2" fill="#333" text-anchor="end" stroke="#333" stroke-width="0.22" textLength="24.6" lengthAdjust="spacingAndGlyphs">ARN509:</text>
<text x="304.80" y="286.37" font-size="6.2" fill="#333" text-anchor="end" stroke="#333" stroke-width="0.22" textLength="30" lengthAdjust="spacingAndGlyphs">Finasteride:</text>
<text x="322.40" y="276.77" font-size="6.2" fill="#333" text-anchor="middle" stroke="#333" stroke-width="0.22">–</text>
<text x="348.70" y="276.77" font-size="6.2" fill="#333" text-anchor="middle" stroke="#333" stroke-width="0.22">+</text>
<text x="375.60" y="276.77" font-size="6.2" fill="#333" text-anchor="middle" stroke="#333" stroke-width="0.22">+</text>
<text x="322.40" y="286.37" font-size="6.2" fill="#333" text-anchor="middle" stroke="#333" stroke-width="0.22">–</text>
<text x="348.70" y="286.37" font-size="6.2" fill="#333" text-anchor="middle" stroke="#333" stroke-width="0.22">–</text>
<text x="375.60" y="286.37" font-size="6.2" fill="#333" text-anchor="middle" stroke="#333" stroke-width="0.22">+</text>
<text x="401.56" y="166.73" font-size="10.8" font-weight="bold" fill="#000" stroke="#000" stroke-width="0.3">G</text>
<rect x="441.80" y="226.90" width="16.40" height="37.90" fill="#9ca6b1" stroke="none" stroke-width="0"/>
<rect x="467.90" y="231.00" width="16.40" height="33.80" fill="#f17cb6" stroke="none" stroke-width="0"/>
<rect x="494.10" y="238.80" width="16.40" height="26.00" fill="#9bd89e" stroke="none" stroke-width="0"/>
<line x1="450.50" y1="221.50" x2="450.50" y2="231.00" stroke="#2f3a47" stroke-width="1.0"/>
<line x1="446.00" y1="221.50" x2="454.00" y2="221.50" stroke="#2f3a47" stroke-width="1.0"/>
<line x1="446.00" y1="231.50" x2="454.00" y2="231.50" stroke="#2f3a47" stroke-width="1.0"/>
<line x1="476.50" y1="220.20" x2="476.50" y2="240.10" stroke="#b8106a" stroke-width="1.0"/>
<line x1="472.10" y1="220.50" x2="480.10" y2="220.50" stroke="#b8106a" stroke-width="1.0"/>
<line x1="472.10" y1="240.50" x2="480.10" y2="240.50" stroke="#b8106a" stroke-width="1.0"/>
<line x1="502.50" y1="228.40" x2="502.50" y2="247.30" stroke="#2e9a3c" stroke-width="1.0"/>
<line x1="498.30" y1="228.50" x2="506.30" y2="228.50" stroke="#2e9a3c" stroke-width="1.0"/>
<line x1="498.30" y1="247.50" x2="506.30" y2="247.50" stroke="#2e9a3c" stroke-width="1.0"/>
<circle cx="447.30" cy="210.20" r="2.052" fill="#343e4a"/>
<circle cx="455.10" cy="212.00" r="2.052" fill="#343e4a"/>
<circle cx="452.40" cy="216.60" r="2.052" fill="#343e4a"/>
<circle cx="447.30" cy="221.10" r="2.052" fill="#343e4a"/>
<circle cx="448.20" cy="229.70" r="2.052" fill="#343e4a"/>
<circle cx="451.90" cy="229.70" r="2.052" fill="#343e4a"/>
<circle cx="452.40" cy="243.30" r="2.052" fill="#343e4a"/>
<circle cx="447.30" cy="246.10" r="2.052" fill="#343e4a"/>
<rect x="474.40" y="183.00" width="3.40" height="3.40" fill="#e0187f" stroke="none" stroke-width="0"/>
<rect x="474.40" y="210.70" width="3.40" height="3.40" fill="#e0187f" stroke="none" stroke-width="0"/>
<rect x="474.40" y="227.10" width="3.40" height="3.40" fill="#e0187f" stroke="none" stroke-width="0"/>
<rect x="474.40" y="233.40" width="3.40" height="3.40" fill="#e0187f" stroke="none" stroke-width="0"/>
<rect x="474.40" y="238.40" width="3.40" height="3.40" fill="#e0187f" stroke="none" stroke-width="0"/>
<rect x="474.40" y="244.00" width="3.40" height="3.40" fill="#e0187f" stroke="none" stroke-width="0"/>
<rect x="474.40" y="263.10" width="3.40" height="3.40" fill="#e0187f" stroke="none" stroke-width="0"/>
<polygon points="502.30,199.52 500.50,202.65 504.10,202.65" fill="#36a846"/>
<polygon points="502.30,215.62 500.50,218.75 504.10,218.75" fill="#36a846"/>
<polygon points="502.30,224.72 500.50,227.85 504.10,227.85" fill="#36a846"/>
<polygon points="502.30,235.12 500.50,238.25 504.10,238.25" fill="#36a846"/>
<polygon points="502.30,254.72 500.50,257.85 504.10,257.85" fill="#36a846"/>
<polygon points="502.30,262.92 500.50,266.05 504.10,266.05" fill="#36a846"/>
<line x1="432.50" y1="176.60" x2="432.50" y2="265.30" stroke="#1a1a1a" stroke-width="1.2"/>
<line x1="430.00" y1="180.50" x2="432.20" y2="180.50" stroke="#1a1a1a" stroke-width="1.3"/>
<text x="426.20" y="182.40" font-size="6" fill="#333" text-anchor="end" stroke="#333" stroke-width="0.22">0.4</text>
<line x1="430.00" y1="201.50" x2="432.20" y2="201.50" stroke="#1a1a1a" stroke-width="1.3"/>
<text x="426.20" y="203.30" font-size="6" fill="#333" text-anchor="end" stroke="#333" stroke-width="0.22">0.3</text>
<line x1="430.00" y1="222.50" x2="432.20" y2="222.50" stroke="#1a1a1a" stroke-width="1.3"/>
<text x="426.20" y="224.50" font-size="6" fill="#333" text-anchor="end" stroke="#333" stroke-width="0.22">0.2</text>
<line x1="430.00" y1="243.50" x2="432.20" y2="243.50" stroke="#1a1a1a" stroke-width="1.3"/>
<text x="426.20" y="245.70" font-size="6" fill="#333" text-anchor="end" stroke="#333" stroke-width="0.22">0.1</text>
<line x1="430.00" y1="264.50" x2="432.20" y2="264.50" stroke="#1a1a1a" stroke-width="1.3"/>
<text x="426.20" y="266.90" font-size="6" fill="#333" text-anchor="end" stroke="#333" stroke-width="0.22">0.0</text>
<line x1="431.60" y1="264.50" x2="513.80" y2="264.50" stroke="#1a1a1a" stroke-width="1.2"/>
<line x1="450.50" y1="264.80" x2="450.50" y2="267.00" stroke="#1a1a1a" stroke-width="1.3"/>
<line x1="476.50" y1="264.80" x2="476.50" y2="267.00" stroke="#1a1a1a" stroke-width="1.3"/>
<line x1="502.50" y1="264.80" x2="502.50" y2="267.00" stroke="#1a1a1a" stroke-width="1.3"/>
<text transform="translate(412.85,220.90) rotate(-90)" x="0" y="0" font-size="7.0" fill="#1a1a1a" text-anchor="middle" stroke="#1a1a1a" stroke-width="0.3" textLength="52.2" lengthAdjust="spacingAndGlyphs">Spleen LICs (1×10<tspan font-size="4" dy="-2.5">7</tspan><tspan dy="2.5">)</tspan></text>
<text x="431.90" y="276.77" font-size="6.2" fill="#333" text-anchor="end" stroke="#333" stroke-width="0.22" textLength="24.6" lengthAdjust="spacingAndGlyphs">ARN509:</text>
<text x="431.90" y="286.37" font-size="6.2" fill="#333" text-anchor="end" stroke="#333" stroke-width="0.22" textLength="30" lengthAdjust="spacingAndGlyphs">Finasteride:</text>
<text x="450.00" y="276.77" font-size="6.2" fill="#333" text-anchor="middle" stroke="#333" stroke-width="0.22">–</text>
<text x="476.10" y="276.77" font-size="6.2" fill="#333" text-anchor="middle" stroke="#333" stroke-width="0.22">+</text>
<text x="502.30" y="276.77" font-size="6.2" fill="#333" text-anchor="middle" stroke="#333" stroke-width="0.22">+</text>
<text x="450.00" y="286.37" font-size="6.2" fill="#333" text-anchor="middle" stroke="#333" stroke-width="0.22">–</text>
<text x="476.10" y="286.37" font-size="6.2" fill="#333" text-anchor="middle" stroke="#333" stroke-width="0.22">–</text>
<text x="502.30" y="286.37" font-size="6.2" fill="#333" text-anchor="middle" stroke="#333" stroke-width="0.22">+</text>
<circle cx="386.30" cy="265.50" r="0.7" fill="#333"/>
<text x="6.49" y="311.63" font-size="10.8" font-weight="bold" fill="#000" stroke="#000" stroke-width="0.3">H</text>
<rect x="51.30" y="356.50" width="16.90" height="53.30" fill="#9ca6b1" stroke="none" stroke-width="0"/>
<rect x="78.80" y="359.60" width="16.80" height="50.20" fill="#f17cb6" stroke="none" stroke-width="0"/>
<rect x="106.10" y="382.90" width="16.80" height="26.90" fill="#9bd89e" stroke="none" stroke-width="0"/>
<line x1="59.50" y1="349.20" x2="59.50" y2="362.50" stroke="#2f3a47" stroke-width="1.0"/>
<line x1="55.80" y1="349.50" x2="63.80" y2="349.50" stroke="#2f3a47" stroke-width="1.0"/>
<line x1="55.80" y1="362.50" x2="63.80" y2="362.50" stroke="#2f3a47" stroke-width="1.0"/>
<line x1="87.50" y1="350.40" x2="87.50" y2="367.40" stroke="#b8106a" stroke-width="1.0"/>
<line x1="83.20" y1="350.50" x2="91.20" y2="350.50" stroke="#b8106a" stroke-width="1.0"/>
<line x1="83.20" y1="367.50" x2="91.20" y2="367.50" stroke="#b8106a" stroke-width="1.0"/>
<line x1="114.50" y1="373.40" x2="114.50" y2="390.20" stroke="#2e9a3c" stroke-width="1.0"/>
<line x1="110.50" y1="373.50" x2="118.50" y2="373.50" stroke="#2e9a3c" stroke-width="1.0"/>
<line x1="110.50" y1="390.50" x2="118.50" y2="390.50" stroke="#2e9a3c" stroke-width="1.0"/>
<circle cx="59.70" cy="327.90" r="2.052" fill="#343e4a"/>
<circle cx="56.80" cy="335.90" r="2.052" fill="#343e4a"/>
<circle cx="62.40" cy="338.80" r="2.052" fill="#343e4a"/>
<circle cx="59.70" cy="355.20" r="2.052" fill="#343e4a"/>
<circle cx="56.80" cy="366.10" r="2.052" fill="#343e4a"/>
<circle cx="65.50" cy="369.20" r="2.052" fill="#343e4a"/>
<circle cx="62.40" cy="374.10" r="2.052" fill="#343e4a"/>
<circle cx="56.80" cy="377.00" r="2.052" fill="#343e4a"/>
<rect x="85.30" y="328.70" width="3.40" height="3.40" fill="#e0187f" stroke="none" stroke-width="0"/>
<rect x="85.30" y="336.90" width="3.40" height="3.40" fill="#e0187f" stroke="none" stroke-width="0"/>
<rect x="85.30" y="347.50" width="3.40" height="3.40" fill="#e0187f" stroke="none" stroke-width="0"/>
<rect x="82.60" y="356.00" width="3.40" height="3.40" fill="#e0187f" stroke="none" stroke-width="0"/>
<rect x="88.40" y="357.90" width="3.40" height="3.40" fill="#e0187f" stroke="none" stroke-width="0"/>
<rect x="82.60" y="387.60" width="3.40" height="3.40" fill="#e0187f" stroke="none" stroke-width="0"/>
<rect x="88.40" y="385.70" width="3.40" height="3.40" fill="#e0187f" stroke="none" stroke-width="0"/>
<polygon points="114.30,347.32 112.50,350.45 116.10,350.45" fill="#36a846"/>
<polygon points="112.00,364.22 110.20,367.35 113.80,367.35" fill="#36a846"/>
<polygon points="117.40,361.32 115.60,364.45 119.20,364.45" fill="#36a846"/>
<polygon points="112.00,384.62 110.20,387.75 113.80,387.75" fill="#36a846"/>
<polygon points="117.40,389.22 115.60,392.35 119.20,392.35" fill="#36a846"/>
<polygon points="114.30,407.92 112.50,411.05 116.10,411.05" fill="#36a846"/>
<line x1="41.50" y1="319.90" x2="41.50" y2="410.30" stroke="#1a1a1a" stroke-width="1.2"/>
<line x1="39.30" y1="323.50" x2="41.50" y2="323.50" stroke="#1a1a1a" stroke-width="1.3"/>
<text x="35.30" y="325.20" font-size="6" fill="#333" text-anchor="end" stroke="#333" stroke-width="0.22">6</text>
<line x1="39.30" y1="352.50" x2="41.50" y2="352.50" stroke="#1a1a1a" stroke-width="1.3"/>
<text x="35.30" y="354.60" font-size="6" fill="#333" text-anchor="end" stroke="#333" stroke-width="0.22">4</text>
<line x1="39.30" y1="381.50" x2="41.50" y2="381.50" stroke="#1a1a1a" stroke-width="1.3"/>
<text x="35.30" y="383.20" font-size="6" fill="#333" text-anchor="end" stroke="#333" stroke-width="0.22">2</text>
<line x1="39.30" y1="410.50" x2="41.50" y2="410.50" stroke="#1a1a1a" stroke-width="1.3"/>
<text x="35.30" y="412.10" font-size="6" fill="#333" text-anchor="end" stroke="#333" stroke-width="0.22">0</text>
<line x1="40.90" y1="409.50" x2="127.40" y2="409.50" stroke="#1a1a1a" stroke-width="1.2"/>
<line x1="59.50" y1="409.80" x2="59.50" y2="412.00" stroke="#1a1a1a" stroke-width="1.3"/>
<line x1="87.50" y1="409.80" x2="87.50" y2="412.00" stroke="#1a1a1a" stroke-width="1.3"/>
<line x1="114.50" y1="409.80" x2="114.50" y2="412.00" stroke="#1a1a1a" stroke-width="1.3"/>
<polyline points="59.50,323.50 59.50,320.50 114.50,320.50 114.50,336.50" stroke="#333" stroke-width="0.9" fill="none"/>
<text x="87.70" y="320.00" font-size="5" fill="#333" text-anchor="middle" stroke="#333" stroke-width="0.22">*</text>
<text transform="translate(27.05,365.40) rotate(-90)" x="0" y="0" font-size="7.0" fill="#1a1a1a" text-anchor="middle" stroke="#1a1a1a" stroke-width="0.3" textLength="66.2" lengthAdjust="spacingAndGlyphs">Spleen AML cells (1×10<tspan font-size="4" dy="-2.5">8</tspan><tspan dy="2.5">)</tspan></text>
<text x="40.60" y="421.47" font-size="6.2" fill="#333" text-anchor="end" stroke="#333" stroke-width="0.22" textLength="24.6" lengthAdjust="spacingAndGlyphs">ARN509:</text>
<text x="40.60" y="431.37" font-size="6.2" fill="#333" text-anchor="end" stroke="#333" stroke-width="0.22" textLength="30" lengthAdjust="spacingAndGlyphs">Finasteride:</text>
<text x="59.80" y="421.47" font-size="6.2" fill="#333" text-anchor="middle" stroke="#333" stroke-width="0.22">–</text>
<text x="87.20" y="421.47" font-size="6.2" fill="#333" text-anchor="middle" stroke="#333" stroke-width="0.22">+</text>
<text x="114.50" y="421.47" font-size="6.2" fill="#333" text-anchor="middle" stroke="#333" stroke-width="0.22">+</text>
<text x="59.80" y="431.37" font-size="6.2" fill="#333" text-anchor="middle" stroke="#333" stroke-width="0.22">–</text>
<text x="87.20" y="431.37" font-size="6.2" fill="#333" text-anchor="middle" stroke="#333" stroke-width="0.22">–</text>
<text x="114.50" y="431.37" font-size="6.2" fill="#333" text-anchor="middle" stroke="#333" stroke-width="0.22">+</text>
<text x="142.69" y="311.63" font-size="10.8" font-weight="bold" fill="#000" stroke="#000" stroke-width="0.3">I</text>
<line x1="171.50" y1="320.20" x2="171.50" y2="410.50" stroke="#1a1a1a" stroke-width="1.2"/>
<line x1="169.20" y1="322.50" x2="171.40" y2="322.50" stroke="#1a1a1a" stroke-width="1.3"/>
<text x="165.30" y="324.40" font-size="6" fill="#333" text-anchor="end" stroke="#333" stroke-width="0.22">120</text>
<line x1="169.20" y1="351.50" x2="171.40" y2="351.50" stroke="#1a1a1a" stroke-width="1.3"/>
<text x="165.30" y="353.80" font-size="6" fill="#333" text-anchor="end" stroke="#333" stroke-width="0.22">80</text>
<line x1="169.20" y1="381.50" x2="171.40" y2="381.50" stroke="#1a1a1a" stroke-width="1.3"/>
<text x="165.30" y="383.10" font-size="6" fill="#333" text-anchor="end" stroke="#333" stroke-width="0.22">40</text>
<line x1="169.20" y1="410.50" x2="171.40" y2="410.50" stroke="#1a1a1a" stroke-width="1.3"/>
<text x="165.30" y="412.30" font-size="6" fill="#333" text-anchor="end" stroke="#333" stroke-width="0.22">0</text>
<line x1="170.80" y1="410.50" x2="231.20" y2="410.50" stroke="#1a1a1a" stroke-width="1.2"/>
<text x="203.60" y="328.97" font-size="6.2" fill="#333" text-anchor="middle" stroke="#333" stroke-width="0.22" textLength="26.8" lengthAdjust="spacingAndGlyphs"><tspan font-style="italic">P</tspan> = .0586</text>
<line x1="190.00" y1="332.50" x2="217.80" y2="332.50" stroke="#5a626e" stroke-width="1.5"/>
<circle cx="189.90" cy="392.50" r="2.05" fill="#3c4e66"/>
<circle cx="189.90" cy="400.50" r="2.05" fill="#3c4e66"/>
<circle cx="185.50" cy="407.60" r="2.05" fill="#3c4e66"/>
<circle cx="189.00" cy="408.80" r="2.05" fill="#3c4e66"/>
<circle cx="192.50" cy="408.20" r="2.05" fill="#3c4e66"/>
<circle cx="196.00" cy="409.00" r="2.05" fill="#3c4e66"/>
<circle cx="188.00" cy="409.60" r="2.05" fill="#3c4e66"/>
<line x1="181.90" y1="406.50" x2="197.90" y2="406.50" stroke="#3c4e66" stroke-width="1.0"/>
<line x1="189.50" y1="404.40" x2="189.50" y2="407.60" stroke="#3c4e66" stroke-width="1.0"/>
<line x1="186.40" y1="404.50" x2="193.40" y2="404.50" stroke="#3c4e66" stroke-width="1.0"/>
<line x1="186.40" y1="407.50" x2="193.40" y2="407.50" stroke="#3c4e66" stroke-width="1.0"/>
<rect x="214.80" y="333.60" width="3.80" height="3.80" fill="#3c4e66" stroke="none" stroke-width="0"/>
<rect x="214.80" y="344.50" width="3.80" height="3.80" fill="#3c4e66" stroke="none" stroke-width="0"/>
<rect x="214.80" y="351.80" width="3.80" height="3.80" fill="#3c4e66" stroke="none" stroke-width="0"/>
<rect x="208.80" y="395.00" width="3.80" height="3.80" fill="#3c4e66" stroke="none" stroke-width="0"/>
<rect x="214.80" y="395.00" width="3.80" height="3.80" fill="#3c4e66" stroke="none" stroke-width="0"/>
<rect x="220.40" y="393.20" width="3.80" height="3.80" fill="#3c4e66" stroke="none" stroke-width="0"/>
<rect x="208.80" y="406.10" width="3.80" height="3.80" fill="#3c4e66" stroke="none" stroke-width="0"/>
<rect x="214.40" y="407.50" width="3.80" height="3.80" fill="#3c4e66" stroke="none" stroke-width="0"/>
<rect x="211.80" y="408.50" width="3.80" height="3.80" fill="#3c4e66" stroke="none" stroke-width="0"/>
<rect x="217.80" y="406.90" width="3.80" height="3.80" fill="#3c4e66" stroke="none" stroke-width="0"/>
<rect x="221.20" y="406.10" width="3.80" height="3.80" fill="#3c4e66" stroke="none" stroke-width="0"/>
<line x1="207.80" y1="386.50" x2="225.20" y2="386.50" stroke="#3c4e66" stroke-width="1.0"/>
<line x1="216.50" y1="377.60" x2="216.50" y2="394.80" stroke="#3c4e66" stroke-width="1.0"/>
<line x1="212.20" y1="377.50" x2="220.80" y2="377.50" stroke="#3c4e66" stroke-width="1.0"/>
<line x1="212.20" y1="394.50" x2="220.80" y2="394.50" stroke="#3c4e66" stroke-width="1.0"/>
<text x="189.90" y="421.60" font-size="6.3" fill="#333" text-anchor="middle" stroke="#333" stroke-width="0.22" textLength="13" lengthAdjust="spacingAndGlyphs">Male</text>
<text x="216.30" y="421.60" font-size="6.3" fill="#333" text-anchor="middle" stroke="#333" stroke-width="0.22" textLength="19" lengthAdjust="spacingAndGlyphs">Female</text>
<text transform="translate(151.25,364.40) rotate(-90)" x="0" y="0" font-size="7.0" fill="#1a1a1a" text-anchor="middle" stroke="#1a1a1a" stroke-width="0.3" textLength="75.3" lengthAdjust="spacingAndGlyphs">Fold change of <tspan font-style="italic">AR1</tspan> (2<tspan font-size="4" dy="-2.5">–ΔΔCt</tspan><tspan dy="2.5">)</tspan></text>
<text x="246.44" y="311.63" font-size="10.8" font-weight="bold" fill="#000" stroke="#000" stroke-width="0.3">J</text>
<line x1="271.50" y1="320.20" x2="271.50" y2="410.50" stroke="#1a1a1a" stroke-width="1.2"/>
<line x1="269.30" y1="322.50" x2="271.50" y2="322.50" stroke="#1a1a1a" stroke-width="1.3"/>
<text x="265.60" y="325.00" font-size="6" fill="#333" text-anchor="end" stroke="#333" stroke-width="0.22">50</text>
<line x1="269.30" y1="340.50" x2="271.50" y2="340.50" stroke="#1a1a1a" stroke-width="1.3"/>
<text x="265.60" y="342.40" font-size="6" fill="#333" text-anchor="end" stroke="#333" stroke-width="0.22">40</text>
<line x1="269.30" y1="357.50" x2="271.50" y2="357.50" stroke="#1a1a1a" stroke-width="1.3"/>
<text x="265.60" y="359.80" font-size="6" fill="#333" text-anchor="end" stroke="#333" stroke-width="0.22">30</text>
<line x1="269.30" y1="375.50" x2="271.50" y2="375.50" stroke="#1a1a1a" stroke-width="1.3"/>
<text x="265.60" y="377.20" font-size="6" fill="#333" text-anchor="end" stroke="#333" stroke-width="0.22">20</text>
<line x1="269.30" y1="392.50" x2="271.50" y2="392.50" stroke="#1a1a1a" stroke-width="1.3"/>
<text x="265.60" y="394.60" font-size="6" fill="#333" text-anchor="end" stroke="#333" stroke-width="0.22">10</text>
<line x1="269.30" y1="410.50" x2="271.50" y2="410.50" stroke="#1a1a1a" stroke-width="1.3"/>
<text x="265.60" y="412.10" font-size="6" fill="#333" text-anchor="end" stroke="#333" stroke-width="0.22">0</text>
<line x1="270.90" y1="410.50" x2="328.20" y2="410.50" stroke="#1a1a1a" stroke-width="1.2"/>
<text x="304.60" y="320.17" font-size="6.2" fill="#333" text-anchor="middle" stroke="#333" stroke-width="0.22" textLength="27.2" lengthAdjust="spacingAndGlyphs"><tspan font-style="italic">P</tspan> = .1954</text>
<line x1="290.50" y1="322.50" x2="318.70" y2="322.50" stroke="#5a626e" stroke-width="1.5"/>
<circle cx="289.90" cy="386.00" r="2.05" fill="#3c4e66"/>
<circle cx="283.90" cy="409.20" r="2.05" fill="#3c4e66"/>
<circle cx="289.90" cy="409.20" r="2.05" fill="#3c4e66"/>
<circle cx="295.20" cy="409.20" r="2.05" fill="#3c4e66"/>
<line x1="281.20" y1="403.50" x2="298.80" y2="403.50" stroke="#3c4e66" stroke-width="1.0"/>
<line x1="290.50" y1="397.50" x2="290.50" y2="408.70" stroke="#3c4e66" stroke-width="1.0"/>
<line x1="285.80" y1="397.50" x2="294.20" y2="397.50" stroke="#3c4e66" stroke-width="1.0"/>
<line x1="285.80" y1="408.50" x2="294.20" y2="408.50" stroke="#3c4e66" stroke-width="1.0"/>
<rect x="315.80" y="324.00" width="3.80" height="3.80" fill="#3c4e66" stroke="none" stroke-width="0"/>
<rect x="315.80" y="371.70" width="3.80" height="3.80" fill="#3c4e66" stroke="none" stroke-width="0"/>
<rect x="315.80" y="382.30" width="3.80" height="3.80" fill="#3c4e66" stroke="none" stroke-width="0"/>
<rect x="309.80" y="398.20" width="3.80" height="3.80" fill="#3c4e66" stroke="none" stroke-width="0"/>
<rect x="315.80" y="400.00" width="3.80" height="3.80" fill="#3c4e66" stroke="none" stroke-width="0"/>
<rect x="321.80" y="400.00" width="3.80" height="3.80" fill="#3c4e66" stroke="none" stroke-width="0"/>
<line x1="308.60" y1="381.50" x2="326.60" y2="381.50" stroke="#3c4e66" stroke-width="1.0"/>
<line x1="317.50" y1="369.30" x2="317.50" y2="393.50" stroke="#3c4e66" stroke-width="1.0"/>
<line x1="313.60" y1="369.50" x2="322.20" y2="369.50" stroke="#3c4e66" stroke-width="1.0"/>
<line x1="313.60" y1="393.50" x2="322.20" y2="393.50" stroke="#3c4e66" stroke-width="1.0"/>
<text x="289.90" y="421.60" font-size="6.3" fill="#333" text-anchor="middle" stroke="#333" stroke-width="0.22" textLength="13" lengthAdjust="spacingAndGlyphs">Male</text>
<text x="317.70" y="421.60" font-size="6.3" fill="#333" text-anchor="middle" stroke="#333" stroke-width="0.22" textLength="19" lengthAdjust="spacingAndGlyphs">Female</text>
<text transform="translate(253.95,364.40) rotate(-90)" x="0" y="0" font-size="7.0" fill="#1a1a1a" text-anchor="middle" stroke="#1a1a1a" stroke-width="0.3" textLength="75.3" lengthAdjust="spacingAndGlyphs">Fold change of <tspan font-style="italic">AR3</tspan> (2<tspan font-size="4" dy="-2.5">–ΔΔCt</tspan><tspan dy="2.5">)</tspan></text>
<text x="347.79" y="311.63" font-size="10.8" font-weight="bold" fill="#000" stroke="#000" stroke-width="0.3">K</text>
<line x1="372.50" y1="320.20" x2="372.50" y2="410.20" stroke="#1a1a1a" stroke-width="1.2"/>
<line x1="370.30" y1="322.50" x2="372.50" y2="322.50" stroke="#1a1a1a" stroke-width="1.3"/>
<text x="367.30" y="324.60" font-size="6" fill="#333" text-anchor="end" stroke="#333" stroke-width="0.22">15</text>
<line x1="370.30" y1="340.50" x2="372.50" y2="340.50" stroke="#1a1a1a" stroke-width="1.3"/>
<text x="367.30" y="342.20" font-size="6" fill="#333" text-anchor="end" stroke="#333" stroke-width="0.22">12</text>
<line x1="370.30" y1="357.50" x2="372.50" y2="357.50" stroke="#1a1a1a" stroke-width="1.3"/>
<text x="367.30" y="359.60" font-size="6" fill="#333" text-anchor="end" stroke="#333" stroke-width="0.22">9</text>
<line x1="370.30" y1="375.50" x2="372.50" y2="375.50" stroke="#1a1a1a" stroke-width="1.3"/>
<text x="367.30" y="377.10" font-size="6" fill="#333" text-anchor="end" stroke="#333" stroke-width="0.22">6</text>
<line x1="370.30" y1="392.50" x2="372.50" y2="392.50" stroke="#1a1a1a" stroke-width="1.3"/>
<text x="367.30" y="394.50" font-size="6" fill="#333" text-anchor="end" stroke="#333" stroke-width="0.22">3</text>
<line x1="370.30" y1="409.50" x2="372.50" y2="409.50" stroke="#1a1a1a" stroke-width="1.3"/>
<text x="367.30" y="411.90" font-size="6" fill="#333" text-anchor="end" stroke="#333" stroke-width="0.22">0</text>
<line x1="371.90" y1="409.50" x2="466.60" y2="409.50" stroke="#1a1a1a" stroke-width="1.2"/>
<line x1="382.50" y1="409.70" x2="382.50" y2="411.90" stroke="#1a1a1a" stroke-width="1.3"/>
<line x1="397.50" y1="409.70" x2="397.50" y2="411.90" stroke="#1a1a1a" stroke-width="1.3"/>
<line x1="412.50" y1="409.70" x2="412.50" y2="411.90" stroke="#1a1a1a" stroke-width="1.3"/>
<line x1="427.50" y1="409.70" x2="427.50" y2="411.90" stroke="#1a1a1a" stroke-width="1.3"/>
<line x1="441.50" y1="409.70" x2="441.50" y2="411.90" stroke="#1a1a1a" stroke-width="1.3"/>
<line x1="456.50" y1="409.70" x2="456.50" y2="411.90" stroke="#1a1a1a" stroke-width="1.3"/>
<text x="382.20" y="421.60" font-size="6.3" fill="#333" text-anchor="middle" stroke="#333" stroke-width="0.22">1</text>
<text x="397.20" y="421.60" font-size="6.3" fill="#333" text-anchor="middle" stroke="#333" stroke-width="0.22">2</text>
<text x="412.20" y="421.60" font-size="6.3" fill="#333" text-anchor="middle" stroke="#333" stroke-width="0.22">3</text>
<text x="427.20" y="421.60" font-size="6.3" fill="#333" text-anchor="middle" stroke="#333" stroke-width="0.22">4</text>
<text x="441.80" y="421.60" font-size="6.3" fill="#333" text-anchor="middle" stroke="#333" stroke-width="0.22">5</text>
<text x="456.90" y="421.60" font-size="6.3" fill="#333" text-anchor="middle" stroke="#333" stroke-width="0.22">6</text>
<line x1="377.20" y1="335.50" x2="387.60" y2="335.50" stroke="#2a2a2a" stroke-width="1.0"/>
<circle cx="382.30" cy="335.50" r="2.0" fill="#b1183f"/>
<line x1="377.20" y1="342.50" x2="387.60" y2="342.50" stroke="#2a2a2a" stroke-width="1.0"/>
<circle cx="382.30" cy="342.30" r="1.5" fill="#1f5b68"/>
<line x1="392.30" y1="326.50" x2="402.50" y2="326.50" stroke="#2a2a2a" stroke-width="1.0"/>
<circle cx="397.40" cy="326.70" r="2.0" fill="#b1183f"/>
<line x1="392.30" y1="332.50" x2="402.50" y2="332.50" stroke="#2a2a2a" stroke-width="1.0"/>
<circle cx="397.40" cy="332.40" r="1.5" fill="#1f5b68"/>
<line x1="407.20" y1="325.50" x2="416.70" y2="325.50" stroke="#2a2a2a" stroke-width="1.0"/>
<circle cx="415.30" cy="325.40" r="2.0" fill="#b1183f"/>
<line x1="407.50" y1="328.50" x2="417.30" y2="328.50" stroke="#2a2a2a" stroke-width="1.0"/>
<circle cx="408.70" cy="328.40" r="1.5" fill="#1f5b68"/>
<line x1="422.00" y1="348.50" x2="432.40" y2="348.50" stroke="#2a2a2a" stroke-width="1.0"/>
<circle cx="427.20" cy="348.10" r="2.0" fill="#b1183f"/>
<line x1="422.00" y1="389.50" x2="432.40" y2="389.50" stroke="#2a2a2a" stroke-width="1.0"/>
<circle cx="427.20" cy="389.20" r="1.5" fill="#1f5b68"/>
<line x1="436.60" y1="340.50" x2="447.00" y2="340.50" stroke="#2a2a2a" stroke-width="1.0"/>
<circle cx="441.80" cy="340.80" r="2.0" fill="#b1183f"/>
<line x1="436.60" y1="355.50" x2="447.00" y2="355.50" stroke="#2a2a2a" stroke-width="1.0"/>
<circle cx="441.80" cy="355.20" r="1.5" fill="#1f5b68"/>
<line x1="451.70" y1="347.50" x2="462.10" y2="347.50" stroke="#2a2a2a" stroke-width="1.0"/>
<circle cx="456.90" cy="347.00" r="2.0" fill="#b1183f"/>
<line x1="451.70" y1="369.50" x2="462.10" y2="369.50" stroke="#2a2a2a" stroke-width="1.0"/>
<circle cx="456.90" cy="369.20" r="1.5" fill="#1f5b68"/>
<path d="M 379.3 422.2 L 379.3 423.59999999999997 Q 379.3 424.4 380.1 424.4 L 415.7 424.4 Q 416.5 424.4 416.5 423.59999999999997 L 416.5 422.2" fill="none" stroke="#444" stroke-width="1"/>
<path d="M 424.0 422.2 L 424.0 423.59999999999997 Q 424.0 424.4 424.8 424.4 L 459.8 424.4 Q 460.6 424.4 460.6 423.59999999999997 L 460.6 422.2" fill="none" stroke="#444" stroke-width="1"/>
<text x="398.30" y="433.20" font-size="6.3" fill="#333" text-anchor="middle" stroke="#333" stroke-width="0.22" textLength="19" lengthAdjust="spacingAndGlyphs">Female</text>
<text x="441.80" y="433.20" font-size="6.3" fill="#333" text-anchor="middle" stroke="#333" stroke-width="0.22" textLength="13" lengthAdjust="spacingAndGlyphs">Male</text>
<text transform="translate(355.01,364.20) rotate(-90)" x="0" y="0" font-size="6.6" fill="#1a1a1a" text-anchor="middle" stroke="#1a1a1a" stroke-width="0.3" textLength="35.1" lengthAdjust="spacingAndGlyphs">ΔCt (<tspan font-style="italic">AR-18S</tspan>)</text>
<rect x="470.30" y="321.70" width="2.40" height="2.40" fill="#1f5b68" stroke="none" stroke-width="0"/>
<text x="476.10" y="325.35" font-size="7" fill="#2e6a86" text-anchor="start" stroke="#2e6a86" stroke-width="0.22" font-style="italic" textLength="11.4" lengthAdjust="spacingAndGlyphs">AR1</text>
<circle cx="471.50" cy="332.50" r="1.9" fill="#b1183f"/>
<text x="476.10" y="334.95" font-size="7" fill="#b03452" text-anchor="start" stroke="#b03452" stroke-width="0.22" font-style="italic" textLength="11.4" lengthAdjust="spacingAndGlyphs">AR3</text>
<text x="6.49" y="456.63" font-size="10.8" font-weight="bold" fill="#000" stroke="#000" stroke-width="0.3">L</text>
<text x="72.50" y="467.51" font-size="8.6" fill="#1a1a1a" text-anchor="middle" stroke="#1a1a1a" stroke-width="0.15" textLength="43.3" lengthAdjust="spacingAndGlyphs">Human AML</text>
<text x="59.80" y="477.60" font-size="6.3" fill="#333" text-anchor="middle" stroke="#333" stroke-width="0.1" textLength="18" lengthAdjust="spacingAndGlyphs">Female</text>
<text x="59.80" y="485.00" font-size="6.3" fill="#333" text-anchor="middle" stroke="#333" stroke-width="0.22">#1</text>
<text x="86.80" y="477.60" font-size="6.3" fill="#333" text-anchor="middle" stroke="#333" stroke-width="0.1" textLength="11.6" lengthAdjust="spacingAndGlyphs">Male</text>
<text x="87.00" y="485.00" font-size="6.3" fill="#333" text-anchor="middle" stroke="#333" stroke-width="0.22">#4</text>
<defs>
<filter id="blur1" x="-30%" y="-150%" width="160%" height="400%"><feGaussianBlur stdDeviation="1.1 0.8"/></filter>
<filter id="blur2" x="-30%" y="-150%" width="160%" height="400%"><feGaussianBlur stdDeviation="1.4 1.0"/></filter>
<linearGradient id="erbg" x1="0" y1="0" x2="1" y2="0"><stop offset="0" stop-color="#a8a8a8"/><stop offset="0.45" stop-color="#9a9a9a"/><stop offset="1" stop-color="#b0b0b0"/></linearGradient>
</defs>
<rect x="41.30" y="489.40" width="62.40" height="12.70" fill="#f2f2f2" stroke="#b8b8b8" stroke-width="0.6"/>
<rect x="51.0" y="493.90000000000003" width="20.0" height="3.4" rx="1.7" fill="#111" filter="url(#blur1)"/>
<rect x="78" y="495.0" width="15" height="2.0" rx="1.0" fill="#a8a8a8" filter="url(#blur1)"/>
<rect x="41.30" y="506.30" width="62.40" height="12.30" fill="#f2f2f2" stroke="#b8b8b8" stroke-width="0.6"/>
<rect x="50.6" y="510.59999999999997" width="20.4" height="5.6" rx="2.8" fill="#000" filter="url(#blur1)"/>
<rect x="76.6" y="510.59999999999997" width="21.200000000000003" height="5.6" rx="2.8" fill="#000" filter="url(#blur1)"/>
<rect x="41.30" y="529.20" width="62.40" height="11.40" fill="url(#erbg)" stroke="#888" stroke-width="0.6"/>
<rect x="46.8" y="531.4" width="22.0" height="6.4" rx="3.2" fill="#000" filter="url(#blur2)"/>
<rect x="77.2" y="530.6" width="21.200000000000003" height="5.6" rx="2.8" fill="#000" filter="url(#blur2)"/>
<rect x="41.30" y="545.00" width="62.40" height="12.50" fill="#f2f2f2" stroke="#b8b8b8" stroke-width="0.6"/>
<rect x="44.6" y="548.8" width="23.199999999999996" height="5.0" rx="2.5" fill="#000" filter="url(#blur1)"/>
<rect x="75.2" y="552.1999999999999" width="23.200000000000003" height="4.4" rx="2.2" fill="#000" filter="url(#blur1)"/>
<text x="38.10" y="498.07" font-size="6.5" fill="#333" text-anchor="end" stroke="#333" stroke-width="0.22">AR</text>
<text x="38.50" y="514.77" font-size="6.5" fill="#333" text-anchor="end" stroke="#333" stroke-width="0.22" textLength="18.5" lengthAdjust="spacingAndGlyphs">β-actin</text>
<text x="38.10" y="537.17" font-size="6.5" fill="#333" text-anchor="end" stroke="#333" stroke-width="0.22">ER</text>
<text x="38.50" y="553.67" font-size="6.5" fill="#333" text-anchor="end" stroke="#333" stroke-width="0.22" textLength="18.5" lengthAdjust="spacingAndGlyphs">β-actin</text>
<text x="118.09" y="456.43" font-size="10.8" font-weight="bold" fill="#000" stroke="#000" stroke-width="0.3">M</text>
<text x="195.90" y="467.45" font-size="9" fill="#222" text-anchor="middle" stroke="#222" stroke-width="0.05" textLength="22" lengthAdjust="spacingAndGlyphs">Blood</text>
<line x1="154.50" y1="472.40" x2="154.50" y2="555.30" stroke="#1a1a1a" stroke-width="1.2"/>
<line x1="152.20" y1="474.50" x2="154.40" y2="474.50" stroke="#1a1a1a" stroke-width="1.3"/>
<text x="146.80" y="476.60" font-size="6" fill="#333" text-anchor="end" stroke="#333" stroke-width="0.22">2.5</text>
<line x1="152.20" y1="490.50" x2="154.40" y2="490.50" stroke="#1a1a1a" stroke-width="1.3"/>
<text x="146.80" y="493.00" font-size="6" fill="#333" text-anchor="end" stroke="#333" stroke-width="0.22">2.0</text>
<line x1="152.20" y1="507.50" x2="154.40" y2="507.50" stroke="#1a1a1a" stroke-width="1.3"/>
<text x="146.80" y="509.30" font-size="6" fill="#333" text-anchor="end" stroke="#333" stroke-width="0.22">1.5</text>
<line x1="152.20" y1="523.50" x2="154.40" y2="523.50" stroke="#1a1a1a" stroke-width="1.3"/>
<text x="146.80" y="525.20" font-size="6" fill="#333" text-anchor="end" stroke="#333" stroke-width="0.22">1.0</text>
<line x1="152.20" y1="539.50" x2="154.40" y2="539.50" stroke="#1a1a1a" stroke-width="1.3"/>
<text x="146.80" y="541.40" font-size="6" fill="#333" text-anchor="end" stroke="#333" stroke-width="0.22">0.5</text>
<line x1="152.20" y1="555.50" x2="154.40" y2="555.50" stroke="#1a1a1a" stroke-width="1.3"/>
<text x="146.80" y="557.30" font-size="6" fill="#333" text-anchor="end" stroke="#333" stroke-width="0.22">0.0</text>
<line x1="153.80" y1="554.50" x2="234.80" y2="554.50" stroke="#1a1a1a" stroke-width="1.2"/>
<line x1="173.50" y1="554.80" x2="173.50" y2="557.00" stroke="#1a1a1a" stroke-width="1.3"/>
<line x1="217.50" y1="554.80" x2="217.50" y2="557.00" stroke="#1a1a1a" stroke-width="1.3"/>
<text transform="translate(125.55,513.60) rotate(-90)" x="0" y="0" font-size="7.0" fill="#1a1a1a" text-anchor="middle" stroke="#1a1a1a" stroke-width="0.3" textLength="73.9" lengthAdjust="spacingAndGlyphs">Frequency of patient-derived</text>
<text transform="translate(134.85,515.50) rotate(-90)" x="0" y="0" font-size="7.0" fill="#1a1a1a" text-anchor="middle" stroke="#1a1a1a" stroke-width="0.3" textLength="32.8" lengthAdjust="spacingAndGlyphs">AML cells (%)</text>
<circle cx="165.90" cy="498.40" r="2.0" fill="#2b5d8c"/>
<circle cx="161.80" cy="506.70" r="2.0" fill="#2b5d8c"/>
<circle cx="169.90" cy="505.90" r="2.0" fill="#2b5d8c"/>
<circle cx="165.90" cy="510.20" r="2.0" fill="#2b5d8c"/>
<circle cx="165.90" cy="514.00" r="2.0" fill="#2b5d8c"/>
<line x1="160.70" y1="506.50" x2="171.10" y2="506.50" stroke="#2b5d8c" stroke-width="1.2"/>
<line x1="165.50" y1="504.50" x2="165.50" y2="509.50" stroke="#2b5d8c" stroke-width="1.0"/>
<line x1="163.10" y1="504.50" x2="168.70" y2="504.50" stroke="#2b5d8c" stroke-width="1.0"/>
<line x1="163.10" y1="509.50" x2="168.70" y2="509.50" stroke="#2b5d8c" stroke-width="1.0"/>
<rect x="180.15" y="514.95" width="3.70" height="3.70" fill="#c0143c" stroke="none" stroke-width="0"/>
<rect x="180.15" y="520.45" width="3.70" height="3.70" fill="#c0143c" stroke="none" stroke-width="0"/>
<rect x="180.15" y="533.95" width="3.70" height="3.70" fill="#c0143c" stroke="none" stroke-width="0"/>
<rect x="176.15" y="540.85" width="3.70" height="3.70" fill="#c0143c" stroke="none" stroke-width="0"/>
<rect x="184.15" y="540.05" width="3.70" height="3.70" fill="#c0143c" stroke="none" stroke-width="0"/>
<line x1="176.80" y1="531.50" x2="187.20" y2="531.50" stroke="#c0143c" stroke-width="1.2"/>
<line x1="182.50" y1="526.30" x2="182.50" y2="535.80" stroke="#c0143c" stroke-width="1.0"/>
<line x1="179.20" y1="526.50" x2="184.80" y2="526.50" stroke="#c0143c" stroke-width="1.0"/>
<line x1="179.20" y1="535.50" x2="184.80" y2="535.50" stroke="#c0143c" stroke-width="1.0"/>
<circle cx="205.40" cy="492.50" r="2.0" fill="#2b5d8c"/>
<circle cx="209.40" cy="492.50" r="2.0" fill="#2b5d8c"/>
<circle cx="213.20" cy="492.50" r="2.0" fill="#2b5d8c"/>
<circle cx="209.40" cy="494.60" r="2.0" fill="#2b5d8c"/>
<circle cx="209.40" cy="500.70" r="2.0" fill="#2b5d8c"/>
<line x1="204.20" y1="494.50" x2="214.60" y2="494.50" stroke="#2b5d8c" stroke-width="1.2"/>
<line x1="209.50" y1="492.60" x2="209.50" y2="496.50" stroke="#2b5d8c" stroke-width="1.0"/>
<line x1="206.60" y1="492.50" x2="212.20" y2="492.50" stroke="#2b5d8c" stroke-width="1.0"/>
<line x1="206.60" y1="496.50" x2="212.20" y2="496.50" stroke="#2b5d8c" stroke-width="1.0"/>
<rect x="219.95" y="506.95" width="3.70" height="3.70" fill="#c0143c" stroke="none" stroke-width="0"/>
<rect x="227.75" y="508.65" width="3.70" height="3.70" fill="#c0143c" stroke="none" stroke-width="0"/>
<rect x="223.95" y="511.85" width="3.70" height="3.70" fill="#c0143c" stroke="none" stroke-width="0"/>
<rect x="219.95" y="521.35" width="3.70" height="3.70" fill="#c0143c" stroke="none" stroke-width="0"/>
<rect x="227.75" y="520.15" width="3.70" height="3.70" fill="#c0143c" stroke="none" stroke-width="0"/>
<line x1="220.60" y1="515.50" x2="231.00" y2="515.50" stroke="#c0143c" stroke-width="1.2"/>
<line x1="225.50" y1="512.30" x2="225.50" y2="518.50" stroke="#c0143c" stroke-width="1.0"/>
<line x1="223.00" y1="512.50" x2="228.60" y2="512.50" stroke="#c0143c" stroke-width="1.0"/>
<line x1="223.00" y1="518.50" x2="228.60" y2="518.50" stroke="#c0143c" stroke-width="1.0"/>
<line x1="164.70" y1="493.50" x2="184.60" y2="493.50" stroke="#555" stroke-width="1.3"/>
<text x="174.60" y="493.30" font-size="5" fill="#333" text-anchor="middle" stroke="#333" stroke-width="0.22">**</text>
<line x1="209.70" y1="487.50" x2="229.30" y2="487.50" stroke="#555" stroke-width="1.3"/>
<text x="219.20" y="486.90" font-size="5" fill="#333" text-anchor="middle" stroke="#333" stroke-width="0.22">*</text>
<text x="162.30" y="566.88" font-size="6.5" fill="#333" text-anchor="end" stroke="#333" stroke-width="0.14" textLength="18.6" lengthAdjust="spacingAndGlyphs">Donor:</text>
<text x="162.30" y="575.27" font-size="6.5" fill="#333" text-anchor="end" stroke="#333" stroke-width="0.14" textLength="27.0" lengthAdjust="spacingAndGlyphs">Recipient:</text>
<text x="173.70" y="566.67" font-size="6.5" fill="#333" text-anchor="middle" stroke="#333" stroke-width="0.14">#1</text>
<text x="218.60" y="566.67" font-size="6.5" fill="#333" text-anchor="middle" stroke="#333" stroke-width="0.14">#4</text>
<text x="173.70" y="575.48" font-size="6.5" fill="#333" text-anchor="middle" stroke="#333" stroke-width="0.14" textLength="12.4" lengthAdjust="spacingAndGlyphs">Male</text>
<text x="218.60" y="575.48" font-size="6.5" fill="#333" text-anchor="middle" stroke="#333" stroke-width="0.14" textLength="19.5" lengthAdjust="spacingAndGlyphs">Female</text>
<circle cx="165.60" cy="583.90" r="1.5" fill="#2b5d8c"/>
<text x="169.60" y="586.17" font-size="6.5" fill="#3a6fa5" text-anchor="start" stroke="#3a6fa5" stroke-width="0.06" textLength="20.2" lengthAdjust="spacingAndGlyphs">Control</text>
<rect x="164.00" y="592.20" width="3.20" height="3.20" fill="#c0143c" stroke="none" stroke-width="0"/>
<text x="169.60" y="596.07" font-size="6.5" fill="#c8284e" text-anchor="start" stroke="#c8284e" stroke-width="0.06" textLength="57.9" lengthAdjust="spacingAndGlyphs">ARN509+Finasteride</text>
<text x="251.29" y="456.43" font-size="10.8" font-weight="bold" fill="#000" stroke="#000" stroke-width="0.3">N</text>
<text x="322.10" y="467.55" font-size="9" fill="#222" text-anchor="middle" stroke="#222" stroke-width="0.05" textLength="46.5" lengthAdjust="spacingAndGlyphs">Bone marrow</text>
<line x1="282.50" y1="472.40" x2="282.50" y2="555.30" stroke="#1a1a1a" stroke-width="1.2"/>
<line x1="280.30" y1="474.50" x2="282.50" y2="474.50" stroke="#1a1a1a" stroke-width="1.3"/>
<text x="277.30" y="476.60" font-size="6" fill="#333" text-anchor="end" stroke="#333" stroke-width="0.22">4</text>
<line x1="280.30" y1="494.50" x2="282.50" y2="494.50" stroke="#1a1a1a" stroke-width="1.3"/>
<text x="277.30" y="496.80" font-size="6" fill="#333" text-anchor="end" stroke="#333" stroke-width="0.22">3</text>
<line x1="280.30" y1="514.50" x2="282.50" y2="514.50" stroke="#1a1a1a" stroke-width="1.3"/>
<text x="277.30" y="517.00" font-size="6" fill="#333" text-anchor="end" stroke="#333" stroke-width="0.22">2</text>
<line x1="280.30" y1="535.50" x2="282.50" y2="535.50" stroke="#1a1a1a" stroke-width="1.3"/>
<text x="277.30" y="537.10" font-size="6" fill="#333" text-anchor="end" stroke="#333" stroke-width="0.22">1</text>
<line x1="280.30" y1="555.50" x2="282.50" y2="555.50" stroke="#1a1a1a" stroke-width="1.3"/>
<text x="277.30" y="557.10" font-size="6" fill="#333" text-anchor="end" stroke="#333" stroke-width="0.22">0</text>
<line x1="281.90" y1="554.50" x2="362.40" y2="554.50" stroke="#1a1a1a" stroke-width="1.2"/>
<line x1="301.50" y1="554.80" x2="301.50" y2="557.00" stroke="#1a1a1a" stroke-width="1.3"/>
<line x1="344.50" y1="554.80" x2="344.50" y2="557.00" stroke="#1a1a1a" stroke-width="1.3"/>
<text transform="translate(258.65,513.30) rotate(-90)" x="0" y="0" font-size="7.0" fill="#1a1a1a" text-anchor="middle" stroke="#1a1a1a" stroke-width="0.3" textLength="74.6" lengthAdjust="spacingAndGlyphs">Frequency of patient-derived</text>
<text transform="translate(267.55,515.50) rotate(-90)" x="0" y="0" font-size="7.0" fill="#1a1a1a" text-anchor="middle" stroke="#1a1a1a" stroke-width="0.3" textLength="32.8" lengthAdjust="spacingAndGlyphs">AML cells (%)</text>
<circle cx="293.50" cy="483.20" r="2.0" fill="#2b5d8c"/>
<circle cx="293.50" cy="490.80" r="2.0" fill="#2b5d8c"/>
<circle cx="289.90" cy="496.80" r="2.0" fill="#2b5d8c"/>
<circle cx="296.90" cy="499.30" r="2.0" fill="#2b5d8c"/>
<circle cx="293.50" cy="502.70" r="2.0" fill="#2b5d8c"/>
<line x1="288.30" y1="494.50" x2="298.70" y2="494.50" stroke="#2b5d8c" stroke-width="1.2"/>
<line x1="293.50" y1="491.50" x2="293.50" y2="498.00" stroke="#2b5d8c" stroke-width="1.0"/>
<line x1="290.70" y1="491.50" x2="296.30" y2="491.50" stroke="#2b5d8c" stroke-width="1.0"/>
<line x1="290.70" y1="498.50" x2="296.30" y2="498.50" stroke="#2b5d8c" stroke-width="1.0"/>
<rect x="303.95" y="505.25" width="3.70" height="3.70" fill="#c0143c" stroke="none" stroke-width="0"/>
<rect x="311.45" y="506.85" width="3.70" height="3.70" fill="#c0143c" stroke="none" stroke-width="0"/>
<rect x="307.95" y="519.75" width="3.70" height="3.70" fill="#c0143c" stroke="none" stroke-width="0"/>
<rect x="307.95" y="525.35" width="3.70" height="3.70" fill="#c0143c" stroke="none" stroke-width="0"/>
<rect x="307.95" y="528.65" width="3.70" height="3.70" fill="#c0143c" stroke="none" stroke-width="0"/>
<line x1="304.60" y1="519.50" x2="315.00" y2="519.50" stroke="#c0143c" stroke-width="1.2"/>
<line x1="309.50" y1="514.20" x2="309.50" y2="523.60" stroke="#c0143c" stroke-width="1.0"/>
<line x1="307.00" y1="514.50" x2="312.60" y2="514.50" stroke="#c0143c" stroke-width="1.0"/>
<line x1="307.00" y1="523.50" x2="312.60" y2="523.50" stroke="#c0143c" stroke-width="1.0"/>
<circle cx="333.00" cy="499.70" r="2.0" fill="#2b5d8c"/>
<circle cx="340.20" cy="497.20" r="2.0" fill="#2b5d8c"/>
<circle cx="333.00" cy="512.30" r="2.0" fill="#2b5d8c"/>
<circle cx="340.20" cy="510.70" r="2.0" fill="#2b5d8c"/>
<line x1="331.80" y1="504.50" x2="342.20" y2="504.50" stroke="#2b5d8c" stroke-width="1.2"/>
<line x1="337.50" y1="501.30" x2="337.50" y2="508.70" stroke="#2b5d8c" stroke-width="1.0"/>
<line x1="334.20" y1="501.50" x2="339.80" y2="501.50" stroke="#2b5d8c" stroke-width="1.0"/>
<line x1="334.20" y1="508.50" x2="339.80" y2="508.50" stroke="#2b5d8c" stroke-width="1.0"/>
<rect x="351.05" y="524.35" width="3.70" height="3.70" fill="#c0143c" stroke="none" stroke-width="0"/>
<rect x="346.65" y="528.15" width="3.70" height="3.70" fill="#c0143c" stroke="none" stroke-width="0"/>
<rect x="351.05" y="528.65" width="3.70" height="3.70" fill="#c0143c" stroke="none" stroke-width="0"/>
<rect x="354.65" y="528.15" width="3.70" height="3.70" fill="#c0143c" stroke="none" stroke-width="0"/>
<rect x="351.05" y="540.65" width="3.70" height="3.70" fill="#c0143c" stroke="none" stroke-width="0"/>
<line x1="348.70" y1="531.50" x2="357.10" y2="531.50" stroke="#c0143c" stroke-width="1.2"/>
<line x1="352.50" y1="528.50" x2="352.50" y2="533.90" stroke="#c0143c" stroke-width="1.0"/>
<line x1="350.10" y1="528.50" x2="355.70" y2="528.50" stroke="#c0143c" stroke-width="1.0"/>
<line x1="350.10" y1="533.50" x2="355.70" y2="533.50" stroke="#c0143c" stroke-width="1.0"/>
<line x1="293.90" y1="477.50" x2="312.80" y2="477.50" stroke="#555" stroke-width="1.3"/>
<text x="302.80" y="477.00" font-size="5" fill="#333" text-anchor="middle" stroke="#333" stroke-width="0.22">**</text>
<line x1="335.60" y1="493.50" x2="356.50" y2="493.50" stroke="#555" stroke-width="1.3"/>
<text x="345.50" y="493.40" font-size="5" fill="#333" text-anchor="middle" stroke="#333" stroke-width="0.22">**</text>
<text x="291.10" y="566.88" font-size="6.5" fill="#333" text-anchor="end" stroke="#333" stroke-width="0.14" textLength="18.2" lengthAdjust="spacingAndGlyphs">Donor:</text>
<text x="291.10" y="575.27" font-size="6.5" fill="#333" text-anchor="end" stroke="#333" stroke-width="0.14" textLength="26.5" lengthAdjust="spacingAndGlyphs">Recipient:</text>
<text x="301.20" y="566.67" font-size="6.5" fill="#333" text-anchor="middle" stroke="#333" stroke-width="0.14">#1</text>
<text x="344.50" y="566.67" font-size="6.5" fill="#333" text-anchor="middle" stroke="#333" stroke-width="0.14">#4</text>
<text x="301.20" y="575.48" font-size="6.5" fill="#333" text-anchor="middle" stroke="#333" stroke-width="0.14" textLength="12.4" lengthAdjust="spacingAndGlyphs">Male</text>
<text x="344.50" y="575.48" font-size="6.5" fill="#333" text-anchor="middle" stroke="#333" stroke-width="0.14" textLength="19.5" lengthAdjust="spacingAndGlyphs">Female</text>
<text x="376.16" y="456.43" font-size="10.8" font-weight="bold" fill="#000" stroke="#000" stroke-width="0.3">O</text>
<text x="448.30" y="467.55" font-size="9" fill="#222" text-anchor="middle" stroke="#222" stroke-width="0.05" textLength="24.5" lengthAdjust="spacingAndGlyphs">Spleen</text>
<line x1="407.50" y1="472.40" x2="407.50" y2="555.50" stroke="#1a1a1a" stroke-width="1.2"/>
<line x1="405.40" y1="474.50" x2="407.60" y2="474.50" stroke="#1a1a1a" stroke-width="1.3"/>
<text x="402.70" y="476.60" font-size="6" fill="#333" text-anchor="end" stroke="#333" stroke-width="0.22">6</text>
<line x1="405.40" y1="501.50" x2="407.60" y2="501.50" stroke="#1a1a1a" stroke-width="1.3"/>
<text x="402.70" y="503.70" font-size="6" fill="#333" text-anchor="end" stroke="#333" stroke-width="0.22">4</text>
<line x1="405.40" y1="528.50" x2="407.60" y2="528.50" stroke="#1a1a1a" stroke-width="1.3"/>
<text x="402.70" y="530.60" font-size="6" fill="#333" text-anchor="end" stroke="#333" stroke-width="0.22">2</text>
<line x1="405.40" y1="555.50" x2="407.60" y2="555.50" stroke="#1a1a1a" stroke-width="1.3"/>
<text x="402.70" y="557.20" font-size="6" fill="#333" text-anchor="end" stroke="#333" stroke-width="0.22">0</text>
<line x1="407.00" y1="555.50" x2="487.00" y2="555.50" stroke="#1a1a1a" stroke-width="1.2"/>
<line x1="426.50" y1="555.00" x2="426.50" y2="557.20" stroke="#1a1a1a" stroke-width="1.3"/>
<line x1="470.50" y1="555.00" x2="470.50" y2="557.20" stroke="#1a1a1a" stroke-width="1.3"/>
<text transform="translate(382.65,513.30) rotate(-90)" x="0" y="0" font-size="7.0" fill="#1a1a1a" text-anchor="middle" stroke="#1a1a1a" stroke-width="0.3" textLength="74.6" lengthAdjust="spacingAndGlyphs">Frequency of patient-derived</text>
<text transform="translate(391.65,515.50) rotate(-90)" x="0" y="0" font-size="7.0" fill="#1a1a1a" text-anchor="middle" stroke="#1a1a1a" stroke-width="0.3" textLength="32.8" lengthAdjust="spacingAndGlyphs">AML cells (%)</text>
<circle cx="418.90" cy="489.80" r="2.0" fill="#2b5d8c"/>
<circle cx="415.90" cy="506.10" r="2.0" fill="#2b5d8c"/>
<circle cx="422.30" cy="506.10" r="2.0" fill="#2b5d8c"/>
<circle cx="418.90" cy="511.30" r="2.0" fill="#2b5d8c"/>
<circle cx="418.90" cy="520.60" r="2.0" fill="#2b5d8c"/>
<line x1="413.70" y1="506.50" x2="424.10" y2="506.50" stroke="#2b5d8c" stroke-width="1.2"/>
<line x1="418.50" y1="501.70" x2="418.50" y2="510.70" stroke="#2b5d8c" stroke-width="1.0"/>
<line x1="416.10" y1="501.50" x2="421.70" y2="501.50" stroke="#2b5d8c" stroke-width="1.0"/>
<line x1="416.10" y1="510.50" x2="421.70" y2="510.50" stroke="#2b5d8c" stroke-width="1.0"/>
<rect x="429.15" y="541.95" width="3.70" height="3.70" fill="#c0143c" stroke="none" stroke-width="0"/>
<rect x="431.65" y="541.95" width="3.70" height="3.70" fill="#c0143c" stroke="none" stroke-width="0"/>
<rect x="433.65" y="541.95" width="3.70" height="3.70" fill="#c0143c" stroke="none" stroke-width="0"/>
<rect x="435.65" y="541.95" width="3.70" height="3.70" fill="#c0143c" stroke="none" stroke-width="0"/>
<rect x="437.15" y="541.95" width="3.70" height="3.70" fill="#c0143c" stroke="none" stroke-width="0"/>
<line x1="429.60" y1="543.50" x2="440.00" y2="543.50" stroke="#c0143c" stroke-width="1.2"/>
<circle cx="462.20" cy="522.00" r="2.0" fill="#2b5d8c"/>
<circle cx="458.60" cy="528.50" r="2.0" fill="#2b5d8c"/>
<circle cx="465.60" cy="528.50" r="2.0" fill="#2b5d8c"/>
<circle cx="458.60" cy="531.10" r="2.0" fill="#2b5d8c"/>
<circle cx="462.20" cy="527.60" r="2.0" fill="#2b5d8c"/>
<line x1="457.60" y1="527.50" x2="466.80" y2="527.50" stroke="#2b5d8c" stroke-width="1.2"/>
<line x1="462.50" y1="525.60" x2="462.50" y2="529.60" stroke="#2b5d8c" stroke-width="1.0"/>
<line x1="459.60" y1="525.50" x2="464.80" y2="525.50" stroke="#2b5d8c" stroke-width="1.0"/>
<line x1="459.60" y1="529.50" x2="464.80" y2="529.50" stroke="#2b5d8c" stroke-width="1.0"/>
<rect x="480.65" y="540.15" width="3.70" height="3.70" fill="#c0143c" stroke="none" stroke-width="0"/>
<rect x="473.25" y="543.55" width="3.70" height="3.70" fill="#c0143c" stroke="none" stroke-width="0"/>
<rect x="476.65" y="543.95" width="3.70" height="3.70" fill="#c0143c" stroke="none" stroke-width="0"/>
<rect x="479.65" y="543.95" width="3.70" height="3.70" fill="#c0143c" stroke="none" stroke-width="0"/>
<rect x="473.25" y="549.15" width="3.70" height="3.70" fill="#c0143c" stroke="none" stroke-width="0"/>
<line x1="473.90" y1="545.50" x2="483.10" y2="545.50" stroke="#c0143c" stroke-width="1.2"/>
<line x1="418.90" y1="483.50" x2="437.40" y2="483.50" stroke="#555" stroke-width="1.3"/>
<text x="427.80" y="482.80" font-size="5" fill="#333" text-anchor="middle" stroke="#333" stroke-width="0.22">**</text>
<line x1="462.60" y1="515.50" x2="481.50" y2="515.50" stroke="#555" stroke-width="1.3"/>
<text x="471.90" y="515.20" font-size="5" fill="#333" text-anchor="middle" stroke="#333" stroke-width="0.22">*</text>
<text x="415.50" y="566.88" font-size="6.5" fill="#333" text-anchor="end" stroke="#333" stroke-width="0.14" textLength="18.2" lengthAdjust="spacingAndGlyphs">Donor:</text>
<text x="415.50" y="575.27" font-size="6.5" fill="#333" text-anchor="end" stroke="#333" stroke-width="0.14" textLength="26.5" lengthAdjust="spacingAndGlyphs">Recipient:</text>
<text x="426.80" y="566.67" font-size="6.5" fill="#333" text-anchor="middle" stroke="#333" stroke-width="0.14">#1</text>
<text x="470.50" y="566.67" font-size="6.5" fill="#333" text-anchor="middle" stroke="#333" stroke-width="0.14">#4</text>
<text x="426.80" y="575.48" font-size="6.5" fill="#333" text-anchor="middle" stroke="#333" stroke-width="0.14" textLength="12.4" lengthAdjust="spacingAndGlyphs">Male</text>
<text x="470.50" y="575.48" font-size="6.5" fill="#333" text-anchor="middle" stroke="#333" stroke-width="0.14" textLength="19.5" lengthAdjust="spacingAndGlyphs">Female</text>
<rect x="0.5" y="0.5" width="519" height="603" fill="none" stroke="#4a4a4a" stroke-width="1"/>
</svg></body></html>
